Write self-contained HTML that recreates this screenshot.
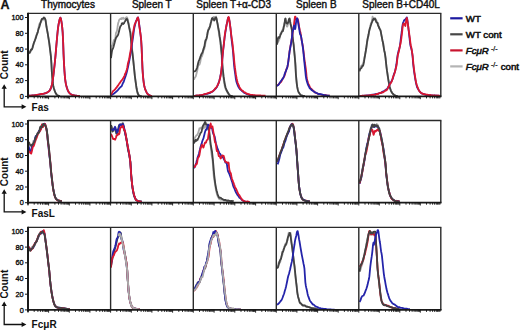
<!DOCTYPE html>
<html><head><meta charset="utf-8"><style>
html,body{margin:0;padding:0;background:#fff;width:520px;height:330px;overflow:hidden}
svg{display:block;font-family:"Liberation Sans",sans-serif}
</style></head><body>
<svg width="520" height="330" viewBox="0 0 520 330"><rect width="520" height="330" fill="#fff"/><clipPath id="c00"><rect x="28.0" y="13.4" width="82.6" height="83.0"/></clipPath><clipPath id="c01"><rect x="110.6" y="13.4" width="82.7" height="83.0"/></clipPath><clipPath id="c02"><rect x="193.3" y="13.4" width="83.0" height="83.0"/></clipPath><clipPath id="c03"><rect x="276.3" y="13.4" width="82.5" height="83.0"/></clipPath><clipPath id="c04"><rect x="358.8" y="13.4" width="82.0" height="83.0"/></clipPath><clipPath id="c10"><rect x="28.0" y="120.5" width="82.6" height="82.2"/></clipPath><clipPath id="c11"><rect x="110.6" y="120.5" width="82.7" height="82.2"/></clipPath><clipPath id="c12"><rect x="193.3" y="120.5" width="83.0" height="82.2"/></clipPath><clipPath id="c13"><rect x="276.3" y="120.5" width="82.5" height="82.2"/></clipPath><clipPath id="c14"><rect x="358.8" y="120.5" width="82.0" height="82.2"/></clipPath><clipPath id="c20"><rect x="28.0" y="227.4" width="82.6" height="82.5"/></clipPath><clipPath id="c21"><rect x="110.6" y="227.4" width="82.7" height="82.5"/></clipPath><clipPath id="c22"><rect x="193.3" y="227.4" width="83.0" height="82.5"/></clipPath><clipPath id="c23"><rect x="276.3" y="227.4" width="82.5" height="82.5"/></clipPath><clipPath id="c24"><rect x="358.8" y="227.4" width="82.0" height="82.5"/></clipPath><path d="M28.00,53.46 L28.45,53.69 L28.90,53.09 L29.35,52.89 L29.80,52.90 L30.25,52.35 L30.70,51.22 L31.15,50.42 L31.60,49.78 L32.05,48.59 L32.50,47.59 L32.95,46.14 L33.40,44.68 L33.85,43.05 L34.30,42.18 L34.75,41.03 L35.20,39.64 L35.65,37.62 L36.10,36.03 L36.55,34.81 L37.00,33.63 L37.45,32.80 L37.90,32.02 L38.35,29.45 L38.80,26.01 L39.25,24.08 L39.70,23.85 L40.15,23.31 L40.60,22.25 L41.05,22.23 L41.50,20.85 L41.95,19.20 L42.40,18.67 L42.85,19.55 L43.30,19.71 L43.75,18.60 L44.20,17.67 L44.65,17.74 L45.10,18.78 L45.55,20.50 L46.00,22.54 L46.45,25.56 L46.90,28.65 L47.35,31.28 L47.80,33.78 L48.25,36.51 L48.70,38.75 L49.15,41.69 L49.60,45.58 L50.05,49.84 L50.50,53.20 L50.95,57.08 L51.40,63.14 L51.85,72.03 L52.30,77.98 L52.75,82.96 L53.20,85.83 L53.65,87.65 L54.10,88.89 L54.55,90.22 L55.00,91.60 L55.45,92.63 L55.90,93.40 L56.35,94.11 L56.80,94.72 L57.25,95.19 L57.70,95.49 L58.15,95.63 L58.60,95.76 L59.05,95.93 L59.50,96.10 L59.95,96.20" fill="none" stroke="#a9a9a9" stroke-width="1.8" stroke-linejoin="round" clip-path="url(#c00)"/><path d="M28.00,95.80 L28.45,95.75 L28.90,95.69 L29.35,95.68 L29.80,95.68 L30.25,95.67 L30.70,95.61 L31.15,95.57 L31.60,95.53 L32.05,95.50 L32.50,95.46 L32.95,95.42 L33.40,95.35 L33.85,95.32 L34.30,95.28 L34.75,95.24 L35.20,95.17 L35.65,95.11 L36.10,95.02 L36.55,94.97 L37.00,94.90 L37.45,94.83 L37.90,94.74 L38.35,94.63 L38.80,94.55 L39.25,94.50 L39.70,94.41 L40.15,94.25 L40.60,94.09 L41.05,94.06 L41.50,94.04 L41.95,94.02 L42.40,93.95 L42.85,93.88 L43.30,93.78 L43.75,93.67 L44.20,93.57 L44.65,93.43 L45.10,93.29 L45.55,93.13 L46.00,93.05 L46.45,92.87 L46.90,92.61 L47.35,92.31 L47.80,92.10 L48.25,91.82 L48.70,91.49 L49.15,91.01 L49.60,90.53 L50.05,89.89 L50.50,89.04 L50.95,87.94 L51.40,86.63 L51.85,84.96 L52.30,82.89 L52.75,80.30 L53.20,77.10 L53.65,73.33 L54.10,69.20 L54.55,65.08 L55.00,60.79 L55.45,56.10 L55.90,50.86 L56.35,45.60 L56.80,40.43 L57.25,35.51 L57.70,30.63 L58.15,26.97 L58.60,24.25 L59.05,22.16 L59.50,20.02 L59.95,18.37 L60.40,17.64 L60.85,18.50 L61.30,20.65 L61.75,23.34 L62.20,27.08 L62.65,32.34 L63.10,41.32 L63.55,54.29 L64.00,63.39 L64.45,70.84 L64.90,76.58 L65.35,80.57 L65.80,83.32 L66.25,85.41 L66.70,87.12 L67.15,88.59 L67.60,89.82 L68.05,90.93 L68.50,91.77 L68.95,92.45 L69.40,92.93 L69.85,93.36 L70.30,93.73 L70.75,94.08 L71.20,94.38 L71.65,94.61 L72.10,94.79 L72.55,94.93 L73.00,95.06 L73.45,95.18 L73.90,95.31 L74.35,95.41 L74.80,95.52 L75.25,95.60 L75.70,95.64 L76.15,95.69 L76.60,95.74 L77.05,95.79 L77.50,95.80 L77.95,95.85 L78.40,95.86 L78.85,95.90 L79.30,95.94 L79.75,95.98" fill="none" stroke="#2424aa" stroke-width="1.8" stroke-linejoin="round" clip-path="url(#c00)"/><path d="M28.00,53.04 L28.45,52.85 L28.90,52.54 L29.35,52.89 L29.80,52.47 L30.25,51.38 L30.70,50.39 L31.15,49.47 L31.60,49.72 L32.05,49.18 L32.50,48.03 L32.95,46.00 L33.40,44.57 L33.85,43.06 L34.30,41.65 L34.75,40.61 L35.20,39.49 L35.65,38.38 L36.10,36.91 L36.55,35.47 L37.00,34.22 L37.45,33.11 L37.90,31.42 L38.35,29.40 L38.80,27.96 L39.25,27.22 L39.70,25.82 L40.15,23.94 L40.60,22.34 L41.05,21.06 L41.50,19.80 L41.95,18.97 L42.40,18.90 L42.85,18.65 L43.30,18.41 L43.75,17.56 L44.20,17.84 L44.65,18.23 L45.10,18.83 L45.55,20.08 L46.00,23.39 L46.45,26.78 L46.90,29.15 L47.35,31.40 L47.80,33.90 L48.25,36.84 L48.70,39.56 L49.15,42.35 L49.60,45.64 L50.05,49.40 L50.50,53.01 L50.95,56.92 L51.40,63.33 L51.85,71.97 L52.30,78.00 L52.75,82.76 L53.20,85.48 L53.65,87.47 L54.10,89.08 L54.55,90.41 L55.00,91.48 L55.45,92.52 L55.90,93.56 L56.35,94.19 L56.80,94.68 L57.25,95.10 L57.70,95.50 L58.15,95.65 L58.60,95.75 L59.05,95.88 L59.50,96.04 L59.95,96.17" fill="none" stroke="#424242" stroke-width="1.8" stroke-linejoin="round" clip-path="url(#c00)"/><path d="M28.00,95.79 L28.45,95.77 L28.90,95.76 L29.35,95.71 L29.80,95.65 L30.25,95.60 L30.70,95.59 L31.15,95.54 L31.60,95.50 L32.05,95.48 L32.50,95.48 L32.95,95.45 L33.40,95.41 L33.85,95.32 L34.30,95.29 L34.75,95.22 L35.20,95.19 L35.65,95.10 L36.10,95.04 L36.55,94.93 L37.00,94.85 L37.45,94.79 L37.90,94.72 L38.35,94.67 L38.80,94.55 L39.25,94.44 L39.70,94.32 L40.15,94.27 L40.60,94.16 L41.05,94.07 L41.50,94.00 L41.95,93.94 L42.40,93.89 L42.85,93.83 L43.30,93.80 L43.75,93.71 L44.20,93.58 L44.65,93.41 L45.10,93.26 L45.55,93.16 L46.00,93.05 L46.45,92.85 L46.90,92.60 L47.35,92.32 L47.80,92.06 L48.25,91.75 L48.70,91.40 L49.15,91.07 L49.60,90.60 L50.05,89.91 L50.50,88.99 L50.95,87.94 L51.40,86.58 L51.85,84.81 L52.30,82.79 L52.75,80.08 L53.20,76.86 L53.65,73.18 L54.10,69.33 L54.55,65.19 L55.00,60.96 L55.45,56.33 L55.90,51.11 L56.35,45.69 L56.80,40.51 L57.25,35.69 L57.70,31.26 L58.15,27.35 L58.60,24.22 L59.05,21.79 L59.50,19.94 L59.95,18.36 L60.40,17.72 L60.85,18.64 L61.30,21.04 L61.75,23.68 L62.20,27.12 L62.65,31.84 L63.10,40.61 L63.55,53.78 L64.00,63.18 L64.45,70.84 L64.90,76.77 L65.35,80.73 L65.80,83.48 L66.25,85.48 L66.70,87.17 L67.15,88.48 L67.60,89.67 L68.05,90.75 L68.50,91.65 L68.95,92.37 L69.40,92.92 L69.85,93.40 L70.30,93.78 L70.75,94.12 L71.20,94.43 L71.65,94.68 L72.10,94.86 L72.55,94.99 L73.00,95.10 L73.45,95.22 L73.90,95.32 L74.35,95.41 L74.80,95.49 L75.25,95.56 L75.70,95.62 L76.15,95.66 L76.60,95.73 L77.05,95.78 L77.50,95.83 L77.95,95.86 L78.40,95.89 L78.85,95.92 L79.30,95.95 L79.75,95.99" fill="none" stroke="#dc1630" stroke-width="1.8" stroke-linejoin="round" clip-path="url(#c00)"/><path d="M111.00,56.90 L111.45,49.12 L111.90,45.90 L112.35,45.37 L112.80,44.37 L113.25,42.57 L113.70,40.39 L114.15,39.71 L114.60,40.16 L115.05,39.66 L115.50,36.71 L115.95,33.11 L116.40,32.00 L116.85,31.44 L117.30,28.84 L117.75,25.44 L118.20,22.99 L118.65,21.69 L119.10,20.12 L119.55,19.34 L120.00,19.20 L120.45,19.07 L120.90,18.51 L121.35,18.05 L121.80,19.00 L122.25,18.75 L122.70,18.08 L123.15,17.64 L123.60,18.79 L124.05,18.37 L124.50,18.56 L124.95,18.60 L125.40,18.87 L125.85,17.82 L126.30,17.28 L126.75,17.16 L127.20,17.58 L127.65,19.19 L128.10,20.91 L128.55,23.86 L129.00,26.73 L129.45,28.20 L129.90,29.34 L130.35,31.34 L130.80,36.00 L131.25,41.33 L131.70,45.66 L132.15,49.25 L132.60,53.38 L133.05,58.64 L133.50,62.30 L133.95,66.53 L134.40,70.90 L134.85,75.94 L135.30,79.33 L135.75,83.16 L136.20,86.39 L136.65,89.50 L137.10,91.53 L137.55,93.13 L138.00,94.14 L138.45,94.84 L138.90,95.29 L139.35,95.78 L139.80,96.08 L140.25,96.19 L140.70,96.20 L141.15,96.23 L141.60,96.22" fill="none" stroke="#a9a9a9" stroke-width="1.8" stroke-linejoin="round" clip-path="url(#c01)"/><path d="M111.00,58.08 L111.45,54.55 L111.90,51.44 L112.35,49.36 L112.80,49.05 L113.25,47.69 L113.70,46.20 L114.15,44.39 L114.60,42.80 L115.05,41.06 L115.50,39.46 L115.95,37.93 L116.40,37.26 L116.85,36.70 L117.30,36.18 L117.75,35.29 L118.20,34.68 L118.65,32.65 L119.10,31.13 L119.55,29.06 L120.00,27.42 L120.45,26.02 L120.90,25.96 L121.35,25.03 L121.80,23.48 L122.25,23.13 L122.70,23.38 L123.15,23.98 L123.60,23.62 L124.05,23.27 L124.50,22.00 L124.95,21.47 L125.40,20.59 L125.85,20.02 L126.30,19.06 L126.75,19.00 L127.20,19.07 L127.65,20.72 L128.10,22.37 L128.55,23.82 L129.00,26.40 L129.45,28.77 L129.90,30.97 L130.35,32.90 L130.80,37.57 L131.25,42.92 L131.70,47.51 L132.15,51.00 L132.60,54.39 L133.05,58.11 L133.50,62.56 L133.95,67.05 L134.40,71.57 L134.85,75.87 L135.30,79.27 L135.75,82.39 L136.20,85.74 L136.65,88.53 L137.10,90.79 L137.55,92.62 L138.00,93.98 L138.45,94.82 L138.90,95.42 L139.35,95.80 L139.80,96.04 L140.25,96.09 L140.70,96.17 L141.15,96.18 L141.60,96.21" fill="none" stroke="#424242" stroke-width="1.8" stroke-linejoin="round" clip-path="url(#c01)"/><path d="M111.00,95.51 L111.45,95.21 L111.90,94.88 L112.35,94.55 L112.80,94.22 L113.25,93.94 L113.70,93.74 L114.15,93.47 L114.60,93.04 L115.05,92.63 L115.50,92.34 L115.95,92.01 L116.40,91.51 L116.85,91.05 L117.30,90.70 L117.75,90.26 L118.20,89.72 L118.65,89.07 L119.10,88.56 L119.55,87.97 L120.00,87.61 L120.45,87.17 L120.90,86.86 L121.35,86.41 L121.80,85.87 L122.25,84.75 L122.70,83.65 L123.15,82.72 L123.60,81.97 L124.05,80.68 L124.50,79.32 L124.95,77.92 L125.40,76.61 L125.85,75.36 L126.30,73.89 L126.75,72.23 L127.20,70.45 L127.65,68.64 L128.10,66.55 L128.55,64.36 L129.00,62.33 L129.45,59.81 L129.90,57.26 L130.35,54.97 L130.80,52.14 L131.25,49.12 L131.70,45.97 L132.15,43.06 L132.60,40.04 L133.05,37.11 L133.50,33.66 L133.95,30.08 L134.40,27.64 L134.85,25.71 L135.30,23.82 L135.75,22.01 L136.20,20.77 L136.65,19.84 L137.10,18.76 L137.55,17.83 L138.00,17.44 L138.45,19.11 L138.90,22.06 L139.35,25.37 L139.80,28.45 L140.25,32.26 L140.70,36.25 L141.15,40.12 L141.60,47.07 L142.05,57.76 L142.50,68.76 L142.95,75.33 L143.40,79.71 L143.85,83.33 L144.30,85.97 L144.75,87.80 L145.20,89.09 L145.65,90.24 L146.10,91.45 L146.55,92.38 L147.00,93.06 L147.45,93.60 L147.90,94.13 L148.35,94.55 L148.80,94.86 L149.25,95.16 L149.70,95.38 L150.15,95.61 L150.60,95.76 L151.05,95.86 L151.50,95.92 L151.95,96.00" fill="none" stroke="#2424aa" stroke-width="1.8" stroke-linejoin="round" clip-path="url(#c01)"/><path d="M111.00,94.85 L111.45,93.91 L111.90,93.10 L112.35,92.24 L112.80,91.53 L113.25,90.89 L113.70,90.57 L114.15,90.20 L114.60,89.92 L115.05,89.43 L115.50,88.82 L115.95,88.21 L116.40,87.75 L116.85,87.13 L117.30,86.43 L117.75,85.70 L118.20,85.31 L118.65,84.59 L119.10,83.87 L119.55,83.17 L120.00,82.75 L120.45,81.99 L120.90,81.31 L121.35,80.74 L121.80,80.28 L122.25,79.56 L122.70,78.98 L123.15,78.12 L123.60,77.58 L124.05,76.82 L124.50,75.72 L124.95,74.30 L125.40,73.51 L125.85,72.45 L126.30,71.09 L126.75,69.66 L127.20,67.93 L127.65,65.26 L128.10,62.72 L128.55,61.19 L129.00,59.65 L129.45,57.34 L129.90,54.50 L130.35,52.18 L130.80,49.60 L131.25,46.33 L131.70,42.77 L132.15,39.30 L132.60,35.92 L133.05,32.62 L133.50,30.18 L133.95,27.64 L134.40,25.38 L134.85,24.07 L135.30,23.08 L135.75,22.00 L136.20,21.00 L136.65,20.35 L137.10,19.08 L137.55,17.74 L138.00,17.46 L138.45,19.28 L138.90,22.62 L139.35,26.63 L139.80,29.52 L140.25,32.50 L140.70,35.36 L141.15,39.77 L141.60,47.55 L142.05,58.59 L142.50,69.36 L142.95,75.85 L143.40,80.32 L143.85,83.57 L144.30,85.96 L144.75,87.81 L145.20,89.39 L145.65,90.47 L146.10,91.20 L146.55,92.22 L147.00,93.12 L147.45,93.86 L147.90,94.21 L148.35,94.66 L148.80,95.02 L149.25,95.32 L149.70,95.42 L150.15,95.56 L150.60,95.68 L151.05,95.79 L151.50,95.83 L151.95,95.93" fill="none" stroke="#dc1630" stroke-width="1.8" stroke-linejoin="round" clip-path="url(#c01)"/><path d="M194.00,79.75 L194.45,78.30 L194.90,77.51 L195.35,76.94 L195.80,76.19 L196.25,74.53 L196.70,72.75 L197.15,71.08 L197.60,68.81 L198.05,66.16 L198.50,65.11 L198.95,64.40 L199.40,64.67 L199.85,63.37 L200.30,61.89 L200.75,59.00 L201.20,57.78 L201.65,56.49 L202.10,56.07 L202.55,54.36 L203.00,53.14 L203.45,50.33 L203.90,49.84 L204.35,48.60 L204.80,46.89 L205.25,44.13 L205.70,42.09 L206.15,40.58 L206.60,37.94 L207.05,36.59 L207.50,34.13 L207.95,31.79 L208.40,29.38 L208.85,27.82 L209.30,27.51 L209.75,26.59 L210.20,25.79 L210.65,23.72 L211.10,21.89 L211.55,20.35 L212.00,20.20 L212.45,19.88 L212.90,18.65 L213.35,16.99 L213.80,16.83 L214.25,16.92 L214.70,18.52 L215.15,18.38 L215.60,17.59 L216.05,16.67 L216.50,19.18 L216.95,21.62 L217.40,23.10 L217.85,24.49 L218.30,27.64 L218.75,32.03 L219.20,35.31 L219.65,37.90 L220.10,39.97 L220.55,44.49 L221.00,50.11 L221.45,53.86 L221.90,60.66 L222.35,68.92 L222.80,73.80 L223.25,76.46 L223.70,79.57 L224.15,82.52 L224.60,85.28 L225.05,87.31 L225.50,88.87 L225.95,89.69 L226.40,90.47 L226.85,91.19 L227.30,92.26 L227.75,93.19 L228.20,93.77 L228.65,94.24 L229.10,94.83 L229.55,95.47 L230.00,95.70 L230.45,95.85 L230.90,95.98 L231.35,96.09 L231.80,96.18 L232.25,96.18 L232.70,96.18" fill="none" stroke="#a9a9a9" stroke-width="1.8" stroke-linejoin="round" clip-path="url(#c02)"/><path d="M194.00,71.92 L194.45,71.32 L194.90,71.26 L195.35,70.95 L195.80,70.43 L196.25,69.61 L196.70,68.73 L197.15,67.45 L197.60,65.58 L198.05,63.56 L198.50,61.79 L198.95,60.56 L199.40,59.63 L199.85,58.44 L200.30,56.92 L200.75,55.88 L201.20,54.62 L201.65,53.68 L202.10,52.94 L202.55,52.33 L203.00,50.72 L203.45,48.97 L203.90,47.99 L204.35,46.59 L204.80,43.92 L205.25,41.16 L205.70,39.92 L206.15,39.50 L206.60,38.22 L207.05,35.99 L207.50,33.04 L207.95,31.06 L208.40,29.90 L208.85,29.24 L209.30,28.43 L209.75,27.26 L210.20,25.45 L210.65,23.36 L211.10,21.80 L211.55,20.04 L212.00,18.33 L212.45,18.04 L212.90,18.62 L213.35,19.11 L213.80,19.72 L214.25,20.53 L214.70,19.80 L215.15,18.29 L215.60,17.55 L216.05,17.44 L216.50,18.44 L216.95,20.57 L217.40,23.14 L217.85,25.73 L218.30,28.29 L218.75,30.26 L219.20,32.37 L219.65,36.13 L220.10,39.23 L220.55,42.19 L221.00,46.68 L221.45,51.18 L221.90,55.67 L222.35,62.98 L222.80,69.07 L223.25,73.02 L223.70,76.97 L224.15,80.21 L224.60,82.86 L225.05,85.33 L225.50,87.19 L225.95,88.46 L226.40,89.69 L226.85,90.81 L227.30,91.56 L227.75,92.29 L228.20,93.05 L228.65,93.86 L229.10,94.46 L229.55,95.01 L230.00,95.46 L230.45,95.77 L230.90,95.92 L231.35,95.98 L231.80,96.10 L232.25,96.20 L232.70,96.24" fill="none" stroke="#424242" stroke-width="1.8" stroke-linejoin="round" clip-path="url(#c02)"/><path d="M194.00,95.84 L194.45,95.85 L194.90,95.82 L195.35,95.74 L195.80,95.68 L196.25,95.69 L196.70,95.69 L197.15,95.70 L197.60,95.61 L198.05,95.60 L198.50,95.57 L198.95,95.59 L199.40,95.50 L199.85,95.42 L200.30,95.35 L200.75,95.32 L201.20,95.25 L201.65,95.13 L202.10,95.03 L202.55,94.92 L203.00,94.75 L203.45,94.62 L203.90,94.56 L204.35,94.42 L204.80,94.23 L205.25,94.14 L205.70,94.07 L206.15,93.90 L206.60,93.79 L207.05,93.80 L207.50,93.76 L207.95,93.55 L208.40,93.37 L208.85,93.29 L209.30,93.16 L209.75,92.98 L210.20,92.83 L210.65,92.64 L211.10,92.29 L211.55,91.99 L212.00,91.79 L212.45,91.65 L212.90,91.25 L213.35,90.78 L213.80,90.27 L214.25,89.82 L214.70,89.40 L215.15,89.08 L215.60,88.63 L216.05,88.10 L216.50,87.54 L216.95,86.92 L217.40,85.96 L217.85,85.00 L218.30,83.68 L218.75,82.36 L219.20,80.99 L219.65,79.37 L220.10,77.38 L220.55,75.12 L221.00,72.83 L221.45,69.61 L221.90,65.48 L222.35,58.67 L222.80,53.85 L223.25,49.49 L223.70,45.30 L224.15,41.61 L224.60,37.73 L225.05,34.59 L225.50,31.63 L225.95,28.78 L226.40,25.88 L226.85,23.53 L227.30,21.69 L227.75,19.13 L228.20,17.67 L228.65,17.73 L229.10,19.48 L229.55,21.16 L230.00,24.26 L230.45,27.98 L230.90,32.53 L231.35,37.14 L231.80,41.27 L232.25,44.78 L232.70,48.33 L233.15,53.20 L233.60,59.16 L234.05,64.99 L234.50,68.77 L234.95,72.10 L235.40,75.42 L235.85,78.79 L236.30,81.13 L236.75,82.64 L237.20,83.89 L237.65,85.10 L238.10,86.19 L238.55,86.99 L239.00,87.80 L239.45,88.54 L239.90,89.14 L240.35,89.55 L240.80,89.84 L241.25,90.18 L241.70,90.69 L242.15,91.19 L242.60,91.43 L243.05,91.73 L243.50,92.15 L243.95,92.66 L244.40,92.88 L244.85,93.02 L245.30,93.04 L245.75,93.33 L246.20,93.79 L246.65,94.05 L247.10,94.09 L247.55,94.19 L248.00,94.40 L248.45,94.57 L248.90,94.70 L249.35,94.90 L249.80,95.09 L250.25,95.23 L250.70,95.34 L251.15,95.38 L251.60,95.46 L252.05,95.44 L252.50,95.44 L252.95,95.52 L253.40,95.63 L253.85,95.71 L254.30,95.75 L254.75,95.83 L255.20,95.87 L255.65,95.90 L256.10,95.89 L256.55,95.86 L257.00,95.83 L257.45,95.84 L257.90,95.85 L258.35,95.87 L258.80,95.90 L259.25,95.95 L259.70,95.99" fill="none" stroke="#2424aa" stroke-width="1.8" stroke-linejoin="round" clip-path="url(#c02)"/><path d="M194.00,95.84 L194.45,95.83 L194.90,95.83 L195.35,95.82 L195.80,95.73 L196.25,95.61 L196.70,95.47 L197.15,95.46 L197.60,95.50 L198.05,95.53 L198.50,95.49 L198.95,95.32 L199.40,95.23 L199.85,95.12 L200.30,95.21 L200.75,95.21 L201.20,95.20 L201.65,95.02 L202.10,94.89 L202.55,94.78 L203.00,94.67 L203.45,94.48 L203.90,94.32 L204.35,94.20 L204.80,94.07 L205.25,93.94 L205.70,93.82 L206.15,93.78 L206.60,93.60 L207.05,93.52 L207.50,93.34 L207.95,93.24 L208.40,92.92 L208.85,92.77 L209.30,92.66 L209.75,92.60 L210.20,92.39 L210.65,92.19 L211.10,92.12 L211.55,92.03 L212.00,91.66 L212.45,91.27 L212.90,90.97 L213.35,90.72 L213.80,90.35 L214.25,89.93 L214.70,89.15 L215.15,88.47 L215.60,88.09 L216.05,87.71 L216.50,87.11 L216.95,86.45 L217.40,85.59 L217.85,84.66 L218.30,83.75 L218.75,82.81 L219.20,81.40 L219.65,79.80 L220.10,78.27 L220.55,76.04 L221.00,73.13 L221.45,69.71 L221.90,65.44 L222.35,58.11 L222.80,52.84 L223.25,48.83 L223.70,45.37 L224.15,41.20 L224.60,36.56 L225.05,32.84 L225.50,30.33 L225.95,28.08 L226.40,25.75 L226.85,23.75 L227.30,21.46 L227.75,19.34 L228.20,17.48 L228.65,16.94 L229.10,18.22 L229.55,21.38 L230.00,24.85 L230.45,28.23 L230.90,31.82 L231.35,35.58 L231.80,38.52 L232.25,41.40 L232.70,45.11 L233.15,49.85 L233.60,53.94 L234.05,59.11 L234.50,63.79 L234.95,67.66 L235.40,70.85 L235.85,74.21 L236.30,76.72 L236.75,79.04 L237.20,81.01 L237.65,82.74 L238.10,83.95 L238.55,84.90 L239.00,85.94 L239.45,87.03 L239.90,88.04 L240.35,88.65 L240.80,89.11 L241.25,89.60 L241.70,90.11 L242.15,90.48 L242.60,90.74 L243.05,91.04 L243.50,91.63 L243.95,92.02 L244.40,92.27 L244.85,92.29 L245.30,92.67 L245.75,93.04 L246.20,93.50 L246.65,93.62 L247.10,93.66 L247.55,93.79 L248.00,94.08 L248.45,94.26 L248.90,94.22 L249.35,94.32 L249.80,94.52 L250.25,94.83 L250.70,94.90 L251.15,94.89 L251.60,94.81 L252.05,94.82 L252.50,94.83 L252.95,94.99 L253.40,95.15 L253.85,95.17 L254.30,95.06 L254.75,95.12 L255.20,95.24 L255.65,95.34 L256.10,95.32 L256.55,95.32 L257.00,95.36 L257.45,95.38 L257.90,95.40 L258.35,95.34 L258.80,95.30 L259.25,95.29 L259.70,95.42 L260.15,95.45 L260.60,95.48 L261.05,95.57 L261.50,95.67 L261.95,95.68 L262.40,95.69 L262.85,95.71 L263.30,95.67 L263.75,95.64 L264.20,95.70 L264.65,95.74 L265.10,95.75 L265.55,95.74" fill="none" stroke="#dc1630" stroke-width="1.8" stroke-linejoin="round" clip-path="url(#c02)"/><path d="M277.00,44.29 L277.45,42.30 L277.90,40.47 L278.35,41.64 L278.80,40.09 L279.25,39.73 L279.70,37.94 L280.15,35.72 L280.60,33.60 L281.05,33.07 L281.50,32.20 L281.95,30.56 L282.40,29.95 L282.85,30.05 L283.30,28.86 L283.75,26.71 L284.20,23.65 L284.65,23.18 L285.10,20.93 L285.55,21.39 L286.00,21.71 L286.45,24.68 L286.90,26.56 L287.35,26.55 L287.80,24.98 L288.25,22.52 L288.70,21.56 L289.15,18.96 L289.60,19.11 L290.05,20.92 L290.50,24.79 L290.95,26.30 L291.40,27.33 L291.85,29.60 L292.30,33.72 L292.75,38.46 L293.20,41.95 L293.65,44.32 L294.10,48.87 L294.55,53.49 L295.00,57.68 L295.45,63.53 L295.90,73.53 L296.35,79.70 L296.80,84.43 L297.25,87.25 L297.70,89.02 L298.15,90.49 L298.60,91.98 L299.05,93.10 L299.50,93.82 L299.95,94.22 L300.40,94.74 L300.85,95.11 L301.30,95.44 L301.75,95.61 L302.20,95.87 L302.65,95.95 L303.10,95.96 L303.55,95.92 L304.00,96.04 L304.45,96.10 L304.90,96.17" fill="none" stroke="#a9a9a9" stroke-width="1.8" stroke-linejoin="round" clip-path="url(#c03)"/><path d="M277.00,44.67 L277.45,42.07 L277.90,38.59 L278.35,37.12 L278.80,37.51 L279.25,37.96 L279.70,36.94 L280.15,35.71 L280.60,34.19 L281.05,33.93 L281.50,32.60 L281.95,31.79 L282.40,31.23 L282.85,31.20 L283.30,29.52 L283.75,26.68 L284.20,25.58 L284.65,22.74 L285.10,18.92 L285.55,18.52 L286.00,21.27 L286.45,22.78 L286.90,23.29 L287.35,23.70 L287.80,23.01 L288.25,22.20 L288.70,20.00 L289.15,18.92 L289.60,18.48 L290.05,21.17 L290.50,23.50 L290.95,25.43 L291.40,27.31 L291.85,29.72 L292.30,33.66 L292.75,37.30 L293.20,41.58 L293.65,44.76 L294.10,50.08 L294.55,54.83 L295.00,59.72 L295.45,65.85 L295.90,74.30 L296.35,79.44 L296.80,83.67 L297.25,86.95 L297.70,89.25 L298.15,91.00 L298.60,92.21 L299.05,92.82 L299.50,93.49 L299.95,94.07 L300.40,94.73 L300.85,95.00 L301.30,95.23 L301.75,95.46 L302.20,95.62 L302.65,95.66 L303.10,95.79 L303.55,95.93 L304.00,95.97 L304.45,96.05 L304.90,96.18" fill="none" stroke="#424242" stroke-width="1.8" stroke-linejoin="round" clip-path="url(#c03)"/><path d="M277.00,86.11 L277.45,85.42 L277.90,84.99 L278.35,84.62 L278.80,84.25 L279.25,83.64 L279.70,83.10 L280.15,82.50 L280.60,82.45 L281.05,81.96 L281.50,81.24 L281.95,80.10 L282.40,79.26 L282.85,78.59 L283.30,77.95 L283.75,77.17 L284.20,76.41 L284.65,75.30 L285.10,73.99 L285.55,72.12 L286.00,70.35 L286.45,69.12 L286.90,68.29 L287.35,67.32 L287.80,65.09 L288.25,62.06 L288.70,58.31 L289.15,54.83 L289.60,50.93 L290.05,48.33 L290.50,45.82 L290.95,43.62 L291.40,40.77 L291.85,38.35 L292.30,35.06 L292.75,32.36 L293.20,29.86 L293.65,27.36 L294.10,23.66 L294.55,19.59 L295.00,16.59 L295.45,16.60 L295.90,18.40 L296.35,19.65 L296.80,19.96 L297.25,18.95 L297.70,19.05 L298.15,20.53 L298.60,22.99 L299.05,25.99 L299.50,28.77 L299.95,30.64 L300.40,32.15 L300.85,34.66 L301.30,37.99 L301.75,40.83 L302.20,42.92 L302.65,45.27 L303.10,48.00 L303.55,51.71 L304.00,55.33 L304.45,59.24 L304.90,62.75 L305.35,65.57 L305.80,68.58 L306.25,72.89 L306.70,78.07 L307.15,80.09 L307.60,81.39 L308.05,82.81 L308.50,84.02 L308.95,85.05 L309.40,85.85 L309.85,86.89 L310.30,87.76 L310.75,88.50 L311.20,88.76 L311.65,89.19 L312.10,89.67 L312.55,90.16 L313.00,90.67 L313.45,91.12 L313.90,91.33 L314.35,91.58 L314.80,92.14 L315.25,92.66 L315.70,92.85 L316.15,93.03 L316.60,93.09 L317.05,93.33 L317.50,93.60 L317.95,93.81 L318.40,93.83 L318.85,93.80 L319.30,93.88 L319.75,94.05 L320.20,94.22 L320.65,94.37 L321.10,94.50 L321.55,94.67 L322.00,94.78 L322.45,94.96 L322.90,95.04 L323.35,95.08 L323.80,95.13 L324.25,95.17 L324.70,95.11 L325.15,94.98 L325.60,95.06 L326.05,95.25 L326.50,95.45 L326.95,95.57 L327.40,95.67 L327.85,95.73 L328.30,95.68 L328.75,95.63 L329.20,95.65 L329.65,95.73" fill="none" stroke="#dc1630" stroke-width="1.8" stroke-linejoin="round" clip-path="url(#c03)"/><path d="M277.00,85.98 L277.45,85.57 L277.90,85.28 L278.35,84.95 L278.80,84.31 L279.25,83.66 L279.70,82.88 L280.15,82.16 L280.60,81.35 L281.05,80.88 L281.50,80.35 L281.95,79.63 L282.40,79.07 L282.85,78.59 L283.30,77.83 L283.75,76.75 L284.20,75.61 L284.65,74.04 L285.10,72.96 L285.55,71.76 L286.00,70.87 L286.45,69.50 L286.90,68.42 L287.35,66.77 L287.80,64.64 L288.25,62.08 L288.70,58.57 L289.15,55.23 L289.60,51.44 L290.05,49.08 L290.50,46.29 L290.95,44.00 L291.40,41.28 L291.85,37.86 L292.30,34.21 L292.75,31.15 L293.20,29.59 L293.65,27.53 L294.10,25.55 L294.55,25.88 L295.00,29.17 L295.45,27.97 L295.90,23.39 L296.35,20.28 L296.80,18.64 L297.25,18.30 L297.70,19.78 L298.15,22.86 L298.60,25.56 L299.05,27.85 L299.50,30.99 L299.95,33.84 L300.40,34.85 L300.85,35.49 L301.30,37.53 L301.75,40.43 L302.20,43.21 L302.65,46.21 L303.10,49.34 L303.55,53.96 L304.00,58.54 L304.45,63.03 L304.90,67.49 L305.35,71.77 L305.80,76.16 L306.25,78.72 L306.70,80.69 L307.15,82.22 L307.60,83.63 L308.05,84.91 L308.50,85.84 L308.95,86.68 L309.40,87.63 L309.85,88.48 L310.30,88.63 L310.75,88.93 L311.20,89.46 L311.65,90.17 L312.10,90.32 L312.55,90.54 L313.00,90.88 L313.45,91.18 L313.90,91.59 L314.35,92.02 L314.80,92.35 L315.25,92.32 L315.70,92.52 L316.15,92.82 L316.60,93.14 L317.05,93.20 L317.50,93.50 L317.95,93.69 L318.40,94.00 L318.85,93.92 L319.30,94.02 L319.75,94.09 L320.20,94.18 L320.65,94.18 L321.10,94.24 L321.55,94.39 L322.00,94.47 L322.45,94.56 L322.90,94.73 L323.35,94.89 L323.80,95.04 L324.25,95.04 L324.70,95.03 L325.15,95.17 L325.60,95.29 L326.05,95.34 L326.50,95.30 L326.95,95.39 L327.40,95.50 L327.85,95.62 L328.30,95.67 L328.75,95.71 L329.20,95.73 L329.65,95.77" fill="none" stroke="#2424aa" stroke-width="1.8" stroke-linejoin="round" clip-path="url(#c03)"/><path d="M359.50,71.68 L359.95,70.37 L360.40,68.38 L360.85,66.49 L361.30,65.86 L361.75,65.57 L362.20,65.12 L362.65,64.16 L363.10,63.55 L363.55,61.62 L364.00,59.91 L364.45,57.08 L364.90,55.77 L365.35,53.41 L365.80,51.25 L366.25,47.88 L366.70,44.92 L367.15,42.46 L367.60,39.35 L368.05,37.58 L368.50,35.90 L368.95,33.33 L369.40,30.05 L369.85,27.86 L370.30,26.72 L370.75,23.94 L371.20,23.17 L371.65,21.66 L372.10,19.79 L372.55,16.61 L373.00,17.60 L373.45,19.74 L373.90,20.14 L374.35,18.82 L374.80,17.89 L375.25,18.48 L375.70,19.51 L376.15,19.77 L376.60,21.11 L377.05,22.69 L377.50,22.84 L377.95,22.93 L378.40,24.36 L378.85,27.42 L379.30,28.28 L379.75,28.42 L380.20,28.89 L380.65,31.45 L381.10,33.84 L381.55,35.60 L382.00,37.92 L382.45,40.32 L382.90,41.97 L383.35,43.49 L383.80,46.52 L384.25,50.18 L384.70,52.88 L385.15,55.04 L385.60,58.15 L386.05,63.34 L386.50,67.35 L386.95,70.24 L387.40,73.39 L387.85,77.03 L388.30,79.96 L388.75,82.29 L389.20,84.39 L389.65,86.29 L390.10,88.34 L390.55,89.73 L391.00,91.01 L391.45,91.57 L391.90,92.78 L392.35,93.16 L392.80,93.89 L393.25,94.06 L393.70,94.59 L394.15,94.86 L394.60,95.21 L395.05,95.60 L395.50,95.83 L395.95,95.87 L396.40,95.86 L396.85,96.01 L397.30,96.09 L397.75,96.11" fill="none" stroke="#a9a9a9" stroke-width="1.8" stroke-linejoin="round" clip-path="url(#c04)"/><path d="M359.50,70.54 L359.95,69.64 L360.40,68.64 L360.85,68.46 L361.30,68.09 L361.75,67.51 L362.20,66.22 L362.65,65.68 L363.10,65.77 L363.55,64.12 L364.00,61.72 L364.45,58.82 L364.90,56.24 L365.35,53.34 L365.80,50.77 L366.25,48.28 L366.70,44.75 L367.15,41.47 L367.60,38.71 L368.05,36.70 L368.50,34.54 L368.95,32.07 L369.40,30.12 L369.85,28.52 L370.30,27.08 L370.75,25.37 L371.20,24.23 L371.65,22.90 L372.10,21.92 L372.55,20.69 L373.00,19.95 L373.45,18.78 L373.90,18.69 L374.35,18.95 L374.80,19.19 L375.25,18.98 L375.70,20.26 L376.15,21.88 L376.60,22.42 L377.05,22.33 L377.50,23.19 L377.95,25.06 L378.40,26.16 L378.85,26.86 L379.30,28.28 L379.75,29.13 L380.20,29.82 L380.65,30.77 L381.10,33.35 L381.55,35.82 L382.00,38.05 L382.45,40.68 L382.90,42.33 L383.35,45.36 L383.80,48.11 L384.25,50.68 L384.70,52.17 L385.15,55.15 L385.60,58.41 L386.05,62.86 L386.50,66.83 L386.95,70.48 L387.40,73.28 L387.85,76.36 L388.30,79.33 L388.75,81.89 L389.20,84.62 L389.65,86.72 L390.10,88.42 L390.55,89.56 L391.00,90.87 L391.45,91.82 L391.90,92.52 L392.35,93.13 L392.80,93.71 L393.25,94.11 L393.70,94.53 L394.15,94.90 L394.60,95.19 L395.05,95.39 L395.50,95.60 L395.95,95.79 L396.40,95.92 L396.85,96.00 L397.30,96.06 L397.75,96.13" fill="none" stroke="#424242" stroke-width="1.8" stroke-linejoin="round" clip-path="url(#c04)"/><path d="M359.50,96.01 L359.95,96.01 L360.40,95.96 L360.85,95.91 L361.30,95.84 L361.75,95.82 L362.20,95.77 L362.65,95.80 L363.10,95.78 L363.55,95.74 L364.00,95.69 L364.45,95.68 L364.90,95.65 L365.35,95.66 L365.80,95.68 L366.25,95.61 L366.70,95.43 L367.15,95.37 L367.60,95.42 L368.05,95.39 L368.50,95.37 L368.95,95.35 L369.40,95.29 L369.85,95.15 L370.30,95.09 L370.75,95.01 L371.20,94.90 L371.65,94.76 L372.10,94.74 L372.55,94.77 L373.00,94.74 L373.45,94.66 L373.90,94.50 L374.35,94.45 L374.80,94.32 L375.25,94.21 L375.70,94.07 L376.15,93.92 L376.60,93.89 L377.05,93.84 L377.50,93.88 L377.95,93.65 L378.40,93.52 L378.85,93.33 L379.30,93.29 L379.75,93.04 L380.20,92.99 L380.65,92.95 L381.10,92.88 L381.55,92.58 L382.00,92.02 L382.45,91.69 L382.90,91.53 L383.35,91.49 L383.80,91.23 L384.25,91.12 L384.70,90.90 L385.15,90.47 L385.60,89.88 L386.05,89.50 L386.50,89.31 L386.95,89.03 L387.40,88.50 L387.85,87.71 L388.30,86.77 L388.75,86.07 L389.20,85.55 L389.65,84.62 L390.10,83.38 L390.55,82.63 L391.00,82.28 L391.45,81.33 L391.90,80.43 L392.35,79.59 L392.80,78.71 L393.25,77.01 L393.70,75.08 L394.15,73.53 L394.60,72.54 L395.05,71.46 L395.50,69.17 L395.95,66.91 L396.40,64.52 L396.85,60.98 L397.30,57.32 L397.75,54.35 L398.20,52.32 L398.65,50.47 L399.10,49.37 L399.55,47.83 L400.00,45.47 L400.45,41.91 L400.90,37.87 L401.35,34.56 L401.80,31.23 L402.25,27.18 L402.70,24.29 L403.15,22.54 L403.60,21.53 L404.05,20.45 L404.50,20.03 L404.95,19.66 L405.40,19.54 L405.85,18.61 L406.30,18.19 L406.75,17.36 L407.20,18.87 L407.65,21.92 L408.10,25.42 L408.55,29.45 L409.00,33.50 L409.45,37.52 L409.90,41.43 L410.35,45.10 L410.80,47.08 L411.25,48.44 L411.70,50.19 L412.15,52.86 L412.60,56.47 L413.05,62.82 L413.50,66.76 L413.95,70.49 L414.40,73.39 L414.85,76.43 L415.30,79.26 L415.75,81.69 L416.20,83.71 L416.65,85.59 L417.10,87.23 L417.55,88.02 L418.00,88.86 L418.45,89.60 L418.90,90.44 L419.35,91.00 L419.80,91.70 L420.25,92.19 L420.70,92.69 L421.15,93.11 L421.60,93.39 L422.05,93.59 L422.50,93.71 L422.95,93.89 L423.40,93.99 L423.85,94.11 L424.30,94.21 L424.75,94.41 L425.20,94.65 L425.65,94.78 L426.10,94.83 L426.55,94.92 L427.00,95.03 L427.45,94.92 L427.90,94.88 L428.35,95.00 L428.80,95.19 L429.25,95.22 L429.70,95.18 L430.15,95.22 L430.60,95.26 L431.05,95.34 L431.50,95.38 L431.95,95.41 L432.40,95.43 L432.85,95.52 L433.30,95.55 L433.75,95.55 L434.20,95.52 L434.65,95.49 L435.10,95.48 L435.55,95.55 L436.00,95.64 L436.45,95.65 L436.90,95.64 L437.35,95.59 L437.80,95.60 L438.25,95.70 L438.70,95.77 L439.15,95.77 L439.60,95.78 L440.05,95.83 L440.50,95.83" fill="none" stroke="#2424aa" stroke-width="1.8" stroke-linejoin="round" clip-path="url(#c04)"/><path d="M359.50,96.02 L359.95,96.07 L360.40,96.07 L360.85,96.01 L361.30,95.92 L361.75,95.84 L362.20,95.76 L362.65,95.71 L363.10,95.76 L363.55,95.80 L364.00,95.82 L364.45,95.73 L364.90,95.65 L365.35,95.55 L365.80,95.51 L366.25,95.57 L366.70,95.62 L367.15,95.60 L367.60,95.52 L368.05,95.42 L368.50,95.45 L368.95,95.41 L369.40,95.41 L369.85,95.44 L370.30,95.37 L370.75,95.15 L371.20,94.95 L371.65,95.06 L372.10,94.99 L372.55,94.92 L373.00,94.87 L373.45,94.92 L373.90,94.70 L374.35,94.60 L374.80,94.68 L375.25,94.82 L375.70,94.60 L376.15,94.30 L376.60,93.94 L377.05,93.86 L377.50,93.99 L377.95,94.17 L378.40,93.71 L378.85,93.29 L379.30,93.14 L379.75,93.22 L380.20,93.18 L380.65,92.91 L381.10,92.62 L381.55,92.43 L382.00,92.58 L382.45,92.51 L382.90,92.33 L383.35,92.10 L383.80,91.71 L384.25,91.43 L384.70,91.13 L385.15,90.69 L385.60,90.20 L386.05,90.23 L386.50,90.25 L386.95,89.85 L387.40,89.11 L387.85,87.97 L388.30,87.12 L388.75,86.56 L389.20,85.72 L389.65,84.48 L390.10,83.55 L390.55,83.38 L391.00,82.77 L391.45,82.01 L391.90,80.86 L392.35,79.48 L392.80,77.70 L393.25,76.37 L393.70,75.47 L394.15,74.52 L394.60,72.97 L395.05,71.29 L395.50,69.71 L395.95,68.10 L396.40,66.10 L396.85,63.09 L397.30,59.12 L397.75,55.63 L398.20,53.64 L398.65,52.42 L399.10,50.36 L399.55,47.94 L400.00,45.60 L400.45,44.13 L400.90,41.37 L401.35,38.28 L401.80,34.55 L402.25,30.82 L402.70,26.35 L403.15,24.02 L403.60,23.51 L404.05,24.41 L404.50,23.65 L404.95,25.20 L405.40,25.94 L405.85,22.84 L406.30,19.23 L406.75,17.94 L407.20,19.46 L407.65,22.58 L408.10,25.74 L408.55,29.38 L409.00,32.09 L409.45,35.31 L409.90,38.41 L410.35,42.29 L410.80,45.38 L411.25,47.04 L411.70,49.51 L412.15,52.72 L412.60,55.70 L413.05,60.16 L413.50,64.81 L413.95,68.49 L414.40,72.18 L414.85,75.21 L415.30,77.99 L415.75,80.60 L416.20,83.03 L416.65,84.61 L417.10,85.96 L417.55,87.24 L418.00,88.09 L418.45,89.33 L418.90,90.31 L419.35,91.17 L419.80,91.57 L420.25,92.18 L420.70,92.67 L421.15,92.94 L421.60,93.17 L422.05,93.38 L422.50,93.58 L422.95,93.82 L423.40,94.16 L423.85,94.29 L424.30,94.24 L424.75,94.22 L425.20,94.30 L425.65,94.36 L426.10,94.57 L426.55,94.67 L427.00,94.67 L427.45,94.72 L427.90,94.87 L428.35,95.08 L428.80,95.09 L429.25,95.11 L429.70,95.04 L430.15,95.01 L430.60,95.07 L431.05,95.25 L431.50,95.47 L431.95,95.48 L432.40,95.49 L432.85,95.47 L433.30,95.49 L433.75,95.44 L434.20,95.45 L434.65,95.44 L435.10,95.52 L435.55,95.54 L436.00,95.53 L436.45,95.51 L436.90,95.58 L437.35,95.57 L437.80,95.52 L438.25,95.52 L438.70,95.64 L439.15,95.75 L439.60,95.83 L440.05,95.82 L440.50,95.80" fill="none" stroke="#dc1630" stroke-width="1.8" stroke-linejoin="round" clip-path="url(#c04)"/><path d="M28.00,147.01 L28.45,147.63 L28.90,149.03 L29.35,149.92 L29.80,150.88 L30.25,150.10 L30.70,149.80 L31.15,149.44 L31.60,147.99 L32.05,146.57 L32.50,145.72 L32.95,143.47 L33.40,140.97 L33.85,140.54 L34.30,141.60 L34.75,142.60 L35.20,141.74 L35.65,139.58 L36.10,137.77 L36.55,136.95 L37.00,136.61 L37.45,134.45 L37.90,133.01 L38.35,132.07 L38.80,132.14 L39.25,131.55 L39.70,131.55 L40.15,130.02 L40.60,128.90 L41.05,127.51 L41.50,126.44 L41.95,124.47 L42.40,124.29 L42.85,125.28 L43.30,125.62 L43.75,125.03 L44.20,124.40 L44.65,124.40 L45.10,124.22 L45.55,125.40 L46.00,127.48 L46.45,129.72 L46.90,132.20 L47.35,134.38 L47.80,138.28 L48.25,141.44 L48.70,146.06 L49.15,150.68 L49.60,155.27 L50.05,159.30 L50.50,164.70 L50.95,170.99 L51.40,175.30 L51.85,179.24 L52.30,182.50 L52.75,185.81 L53.20,188.40 L53.65,191.37 L54.10,193.45 L54.55,195.05 L55.00,196.48 L55.45,197.66 L55.90,198.41 L56.35,199.05 L56.80,199.70 L57.25,200.10 L57.70,200.29 L58.15,200.45 L58.60,200.60 L59.05,200.69 L59.50,200.73 L59.95,200.94 L60.40,201.13 L60.85,201.28 L61.30,201.33 L61.75,201.45" fill="none" stroke="#a9a9a9" stroke-width="1.8" stroke-linejoin="round" clip-path="url(#c10)"/><path d="M28.00,144.83 L28.45,145.71 L28.90,147.29 L29.35,149.46 L29.80,150.37 L30.25,151.13 L30.70,151.57 L31.15,151.47 L31.60,148.30 L32.05,145.50 L32.50,145.00 L32.95,145.27 L33.40,144.61 L33.85,143.68 L34.30,141.84 L34.75,139.96 L35.20,137.64 L35.65,136.31 L36.10,135.66 L36.55,135.63 L37.00,134.72 L37.45,134.09 L37.90,133.36 L38.35,132.63 L38.80,131.01 L39.25,131.04 L39.70,130.94 L40.15,129.76 L40.60,127.43 L41.05,127.16 L41.50,126.68 L41.95,126.56 L42.40,126.22 L42.85,125.21 L43.30,124.56 L43.75,124.29 L44.20,124.58 L44.65,123.58 L45.10,124.24 L45.55,125.89 L46.00,127.76 L46.45,129.14 L46.90,131.73 L47.35,135.55 L47.80,140.79 L48.25,144.84 L48.70,149.09 L49.15,153.41 L49.60,157.24 L50.05,160.81 L50.50,165.14 L50.95,170.49 L51.40,175.16 L51.85,178.92 L52.30,182.52 L52.75,185.98 L53.20,188.78 L53.65,190.93 L54.10,193.30 L54.55,195.36 L55.00,196.76 L55.45,197.71 L55.90,198.57 L56.35,199.05 L56.80,199.37 L57.25,199.73 L57.70,200.07 L58.15,200.37 L58.60,200.74 L59.05,200.99 L59.50,201.18 L59.95,201.26 L60.40,201.37 L60.85,201.40 L61.30,201.42 L61.75,201.45" fill="none" stroke="#2424aa" stroke-width="1.8" stroke-linejoin="round" clip-path="url(#c10)"/><path d="M28.00,150.35 L28.45,151.32 L28.90,151.23 L29.35,151.84 L29.80,151.89 L30.25,152.97 L30.70,153.26 L31.15,153.61 L31.60,152.19 L32.05,150.34 L32.50,148.26 L32.95,146.71 L33.40,146.39 L33.85,145.76 L34.30,144.46 L34.75,142.41 L35.20,141.12 L35.65,139.92 L36.10,139.12 L36.55,138.08 L37.00,136.78 L37.45,135.26 L37.90,134.28 L38.35,132.95 L38.80,132.11 L39.25,131.95 L39.70,131.52 L40.15,130.32 L40.60,130.15 L41.05,129.34 L41.50,126.87 L41.95,124.48 L42.40,125.42 L42.85,127.08 L43.30,126.58 L43.75,125.45 L44.20,124.79 L44.65,124.99 L45.10,124.06 L45.55,125.17 L46.00,126.98 L46.45,129.64 L46.90,131.75 L47.35,135.93 L47.80,140.64 L48.25,144.22 L48.70,147.45 L49.15,151.66 L49.60,155.53 L50.05,159.17 L50.50,163.82 L50.95,169.34 L51.40,173.73 L51.85,177.69 L52.30,182.18 L52.75,185.93 L53.20,189.20 L53.65,191.70 L54.10,193.92 L54.55,195.52 L55.00,196.95 L55.45,197.94 L55.90,198.58 L56.35,199.14 L56.80,199.70 L57.25,200.30 L57.70,200.51 L58.15,200.57 L58.60,200.47 L59.05,200.35 L59.50,200.40 L59.95,200.71 L60.40,201.05 L60.85,201.04 L61.30,201.12 L61.75,201.33" fill="none" stroke="#dc1630" stroke-width="1.8" stroke-linejoin="round" clip-path="url(#c10)"/><path d="M28.00,141.85 L28.45,142.20 L28.90,142.33 L29.35,143.06 L29.80,144.16 L30.25,145.19 L30.70,145.50 L31.15,145.97 L31.60,145.19 L32.05,144.66 L32.50,144.16 L32.95,144.24 L33.40,143.14 L33.85,142.39 L34.30,141.66 L34.75,140.44 L35.20,138.64 L35.65,137.37 L36.10,136.89 L36.55,135.57 L37.00,134.95 L37.45,133.36 L37.90,133.17 L38.35,132.60 L38.80,132.95 L39.25,131.47 L39.70,129.30 L40.15,127.06 L40.60,126.48 L41.05,127.42 L41.50,127.58 L41.95,127.36 L42.40,125.78 L42.85,124.70 L43.30,123.84 L43.75,124.70 L44.20,124.89 L44.65,124.62 L45.10,125.10 L45.55,126.07 L46.00,127.29 L46.45,128.06 L46.90,130.53 L47.35,134.16 L47.80,139.55 L48.25,143.30 L48.70,145.97 L49.15,149.83 L49.60,155.31 L50.05,160.19 L50.50,164.68 L50.95,169.75 L51.40,174.08 L51.85,177.56 L52.30,181.61 L52.75,185.85 L53.20,188.94 L53.65,191.25 L54.10,193.25 L54.55,195.09 L55.00,196.38 L55.45,197.68 L55.90,198.65 L56.35,199.25 L56.80,199.49 L57.25,199.85 L57.70,200.16 L58.15,200.44 L58.60,200.56 L59.05,200.76 L59.50,200.88 L59.95,201.07 L60.40,201.07 L60.85,201.10 L61.30,201.10 L61.75,201.29" fill="none" stroke="#424242" stroke-width="1.8" stroke-linejoin="round" clip-path="url(#c10)"/><path d="M111.00,127.77 L111.45,128.10 L111.90,127.18 L112.35,127.47 L112.80,129.16 L113.25,131.23 L113.70,130.34 L114.15,130.00 L114.60,130.48 L115.05,130.64 L115.50,129.92 L115.95,131.15 L116.40,132.98 L116.85,133.76 L117.30,133.65 L117.75,133.52 L118.20,131.56 L118.65,128.60 L119.10,126.04 L119.55,125.20 L120.00,124.98 L120.45,124.76 L120.90,125.03 L121.35,125.23 L121.80,125.27 L122.25,123.67 L122.70,122.72 L123.15,123.09 L123.60,125.63 L124.05,127.47 L124.50,130.14 L124.95,132.44 L125.40,135.05 L125.85,136.59 L126.30,138.90 L126.75,141.42 L127.20,143.49 L127.65,146.26 L128.10,148.31 L128.55,151.12 L129.00,153.30 L129.45,156.41 L129.90,159.45 L130.35,162.34 L130.80,169.21 L131.25,176.07 L131.70,180.92 L132.15,184.89 L132.60,188.83 L133.05,191.76 L133.50,193.86 L133.95,195.48 L134.40,196.86 L134.85,197.77 L135.30,198.48 L135.75,199.33 L136.20,199.95 L136.65,200.43 L137.10,200.75 L137.55,200.97 L138.00,201.05 L138.45,201.07 L138.90,201.13 L139.35,201.14 L139.80,201.37 L140.25,201.46 L140.70,201.45 L141.15,201.48 L141.60,201.65" fill="none" stroke="#a9a9a9" stroke-width="1.8" stroke-linejoin="round" clip-path="url(#c11)"/><path d="M111.00,125.04 L111.45,126.11 L111.90,128.95 L112.35,131.51 L112.80,131.19 L113.25,130.20 L113.70,128.95 L114.15,128.90 L114.60,128.97 L115.05,129.09 L115.50,129.78 L115.95,131.86 L116.40,133.72 L116.85,133.61 L117.30,132.45 L117.75,131.10 L118.20,129.28 L118.65,126.57 L119.10,125.19 L119.55,124.62 L120.00,124.90 L120.45,124.37 L120.90,124.90 L121.35,125.33 L121.80,125.82 L122.25,124.89 L122.70,123.64 L123.15,124.97 L123.60,127.12 L124.05,129.91 L124.50,130.76 L124.95,131.90 L125.40,133.16 L125.85,135.26 L126.30,137.76 L126.75,140.70 L127.20,144.11 L127.65,147.64 L128.10,149.96 L128.55,152.05 L129.00,153.42 L129.45,155.76 L129.90,158.72 L130.35,161.47 L130.80,167.83 L131.25,174.99 L131.70,180.01 L132.15,184.78 L132.60,187.95 L133.05,190.57 L133.50,192.69 L133.95,195.05 L134.40,196.48 L134.85,197.41 L135.30,198.54 L135.75,199.65 L136.20,200.27 L136.65,200.41 L137.10,200.59 L137.55,200.79 L138.00,200.96 L138.45,201.20 L138.90,201.45 L139.35,201.48 L139.80,201.51 L140.25,201.52 L140.70,201.52 L141.15,201.54 L141.60,201.68" fill="none" stroke="#424242" stroke-width="1.8" stroke-linejoin="round" clip-path="url(#c11)"/><path d="M111.00,128.58 L111.45,129.63 L111.90,129.35 L112.35,129.69 L112.80,129.89 L113.25,130.10 L113.70,129.61 L114.15,128.88 L114.60,127.59 L115.05,126.81 L115.50,127.71 L115.95,129.17 L116.40,130.87 L116.85,132.59 L117.30,132.18 L117.75,130.73 L118.20,129.43 L118.65,128.81 L119.10,126.69 L119.55,125.10 L120.00,124.44 L120.45,124.89 L120.90,124.43 L121.35,124.41 L121.80,124.86 L122.25,124.54 L122.70,124.28 L123.15,124.20 L123.60,125.90 L124.05,127.04 L124.50,129.79 L124.95,132.13 L125.40,134.83 L125.85,136.28 L126.30,138.35 L126.75,140.91 L127.20,143.52 L127.65,145.80 L128.10,148.18 L128.55,151.06 L129.00,153.14 L129.45,155.87 L129.90,158.96 L130.35,162.11 L130.80,168.58 L131.25,176.26 L131.70,180.93 L132.15,184.95 L132.60,188.15 L133.05,190.91 L133.50,193.03 L133.95,194.82 L134.40,196.40 L134.85,197.63 L135.30,198.53 L135.75,199.20 L136.20,199.80 L136.65,200.22 L137.10,200.50 L137.55,200.84 L138.00,201.16 L138.45,201.27 L138.90,201.25 L139.35,201.41 L139.80,201.59 L140.25,201.57 L140.70,201.54 L141.15,201.57 L141.60,201.70" fill="none" stroke="#2424aa" stroke-width="1.8" stroke-linejoin="round" clip-path="url(#c11)"/><path d="M111.00,133.88 L111.45,134.89 L111.90,136.03 L112.35,136.92 L112.80,138.25 L113.25,139.12 L113.70,138.87 L114.15,138.86 L114.60,139.06 L115.05,139.68 L115.50,138.78 L115.95,137.74 L116.40,135.76 L116.85,135.73 L117.30,135.18 L117.75,134.79 L118.20,133.73 L118.65,134.54 L119.10,134.28 L119.55,132.93 L120.00,129.38 L120.45,127.82 L120.90,127.01 L121.35,127.27 L121.80,127.19 L122.25,126.54 L122.70,125.75 L123.15,126.14 L123.60,128.34 L124.05,129.61 L124.50,130.10 L124.95,130.98 L125.40,132.79 L125.85,135.60 L126.30,138.43 L126.75,140.94 L127.20,143.22 L127.65,145.64 L128.10,147.87 L128.55,150.36 L129.00,152.46 L129.45,155.17 L129.90,158.55 L130.35,162.16 L130.80,169.00 L131.25,175.58 L131.70,180.44 L132.15,184.32 L132.60,187.96 L133.05,190.20 L133.50,192.36 L133.95,194.18 L134.40,195.83 L134.85,197.04 L135.30,198.34 L135.75,199.46 L136.20,200.10 L136.65,200.30 L137.10,200.51 L137.55,200.74 L138.00,201.14 L138.45,201.41 L138.90,201.55 L139.35,201.47 L139.80,201.51 L140.25,201.57 L140.70,201.65 L141.15,201.69 L141.60,201.73" fill="none" stroke="#dc1630" stroke-width="1.8" stroke-linejoin="round" clip-path="url(#c11)"/><path d="M194.00,139.72 L194.45,138.74 L194.90,137.87 L195.35,136.96 L195.80,136.14 L196.25,135.67 L196.70,135.14 L197.15,135.05 L197.60,134.11 L198.05,133.15 L198.50,131.76 L198.95,130.40 L199.40,128.41 L199.85,128.19 L200.30,128.51 L200.75,128.56 L201.20,127.46 L201.65,127.50 L202.10,127.69 L202.55,127.68 L203.00,127.32 L203.45,128.45 L203.90,128.27 L204.35,126.91 L204.80,123.35 L205.25,121.57 L205.70,123.21 L206.15,127.64 L206.60,129.66 L207.05,128.40 L207.50,127.87 L207.95,127.72 L208.40,128.53 L208.85,130.27 L209.30,135.18 L209.75,138.65 L210.20,142.25 L210.65,145.56 L211.10,150.54 L211.55,153.98 L212.00,156.73 L212.45,158.94 L212.90,164.12 L213.35,171.18 L213.80,176.32 L214.25,179.59 L214.70,182.14 L215.15,184.93 L215.60,187.83 L216.05,190.49 L216.50,192.41 L216.95,194.10 L217.40,195.67 L217.85,196.58 L218.30,197.42 L218.75,198.36 L219.20,199.08 L219.65,199.24 L220.10,199.36 L220.55,199.59 L221.00,199.54 L221.45,199.66 L221.90,199.68 L222.35,199.90 L222.80,199.91 L223.25,200.15 L223.70,200.44 L224.15,200.63 L224.60,200.59 L225.05,200.51 L225.50,200.57 L225.95,200.45 L226.40,200.18 L226.85,200.17 L227.30,200.66 L227.75,200.95 L228.20,201.03 L228.65,201.03 L229.10,200.98 L229.55,201.00 L230.00,201.07 L230.45,201.27 L230.90,201.25 L231.35,201.01 L231.80,200.91 L232.25,200.77 L232.70,200.97 L233.15,201.02 L233.60,201.18" fill="none" stroke="#a9a9a9" stroke-width="1.8" stroke-linejoin="round" clip-path="url(#c12)"/><path d="M194.00,143.50 L194.45,142.41 L194.90,140.72 L195.35,139.86 L195.80,141.16 L196.25,140.77 L196.70,140.66 L197.15,139.45 L197.60,139.82 L198.05,138.65 L198.50,137.87 L198.95,136.71 L199.40,135.69 L199.85,134.58 L200.30,133.38 L200.75,132.76 L201.20,132.49 L201.65,131.32 L202.10,129.13 L202.55,127.36 L203.00,125.75 L203.45,124.94 L203.90,124.14 L204.35,123.93 L204.80,122.35 L205.25,122.21 L205.70,123.35 L206.15,124.41 L206.60,124.30 L207.05,124.32 L207.50,125.59 L207.95,126.69 L208.40,127.86 L208.85,129.01 L209.30,131.35 L209.75,135.26 L210.20,139.72 L210.65,144.30 L211.10,146.74 L211.55,149.09 L212.00,151.50 L212.45,155.69 L212.90,160.26 L213.35,165.04 L213.80,170.58 L214.25,175.30 L214.70,179.22 L215.15,182.82 L215.60,185.55 L216.05,188.09 L216.50,190.17 L216.95,191.84 L217.40,193.46 L217.85,194.89 L218.30,195.98 L218.75,197.04 L219.20,197.70 L219.65,197.89 L220.10,197.59 L220.55,197.78 L221.00,197.99 L221.45,198.45 L221.90,198.76 L222.35,199.20 L222.80,199.21 L223.25,199.44 L223.70,199.71 L224.15,200.09 L224.60,199.96 L225.05,199.87 L225.50,199.94 L225.95,200.33 L226.40,200.50 L226.85,200.78 L227.30,200.80 L227.75,200.66 L228.20,200.40 L228.65,200.57 L229.10,200.70 L229.55,200.78 L230.00,200.95 L230.45,201.15 L230.90,201.03 L231.35,200.93 L231.80,201.06 L232.25,201.06 L232.70,201.05 L233.15,201.14 L233.60,201.26" fill="none" stroke="#424242" stroke-width="1.8" stroke-linejoin="round" clip-path="url(#c12)"/><path d="M194.00,168.12 L194.45,167.54 L194.90,166.51 L195.35,165.45 L195.80,164.09 L196.25,162.78 L196.70,160.89 L197.15,159.56 L197.60,157.51 L198.05,156.30 L198.50,155.16 L198.95,153.73 L199.40,151.59 L199.85,149.98 L200.30,148.02 L200.75,146.23 L201.20,144.67 L201.65,143.69 L202.10,141.84 L202.55,140.49 L203.00,139.31 L203.45,138.35 L203.90,136.50 L204.35,134.69 L204.80,132.74 L205.25,131.22 L205.70,129.76 L206.15,129.61 L206.60,129.56 L207.05,128.41 L207.50,126.52 L207.95,124.95 L208.40,124.60 L208.85,125.08 L209.30,125.46 L209.75,125.81 L210.20,126.23 L210.65,127.77 L211.10,127.79 L211.55,127.31 L212.00,127.72 L212.45,130.41 L212.90,132.57 L213.35,134.01 L213.80,134.72 L214.25,135.58 L214.70,136.60 L215.15,139.20 L215.60,142.06 L216.05,143.93 L216.50,145.35 L216.95,146.72 L217.40,148.51 L217.85,149.43 L218.30,150.66 L218.75,151.49 L219.20,152.66 L219.65,153.27 L220.10,153.85 L220.55,154.53 L221.00,155.28 L221.45,155.96 L221.90,156.19 L222.35,156.86 L222.80,157.10 L223.25,157.87 L223.70,158.86 L224.15,159.66 L224.60,160.39 L225.05,161.53 L225.50,162.60 L225.95,162.37 L226.40,162.35 L226.85,163.93 L227.30,167.12 L227.75,169.93 L228.20,171.69 L228.65,172.51 L229.10,173.35 L229.55,174.48 L230.00,175.62 L230.45,176.87 L230.90,178.16 L231.35,179.70 L231.80,181.08 L232.25,182.28 L232.70,183.98 L233.15,185.71 L233.60,186.96 L234.05,187.74 L234.50,188.62 L234.95,190.04 L235.40,191.23 L235.85,192.20 L236.30,192.89 L236.75,193.70 L237.20,194.61 L237.65,195.31 L238.10,195.67 L238.55,196.28 L239.00,197.02 L239.45,197.70 L239.90,198.06 L240.35,198.37 L240.80,198.58 L241.25,199.07 L241.70,199.72 L242.15,200.27 L242.60,200.50 L243.05,200.71 L243.50,200.88 L243.95,201.11 L244.40,201.29 L244.85,201.44 L245.30,201.58 L245.75,201.80 L246.20,201.83 L246.65,201.85 L247.10,201.88 L247.55,202.01" fill="none" stroke="#2424aa" stroke-width="1.8" stroke-linejoin="round" clip-path="url(#c12)"/><path d="M194.00,166.97 L194.45,166.99 L194.90,166.76 L195.35,165.98 L195.80,164.33 L196.25,163.88 L196.70,164.13 L197.15,162.72 L197.60,159.56 L198.05,157.64 L198.50,157.19 L198.95,156.64 L199.40,155.25 L199.85,152.52 L200.30,149.88 L200.75,147.96 L201.20,146.82 L201.65,145.52 L202.10,144.75 L202.55,145.78 L203.00,147.04 L203.45,147.63 L203.90,145.96 L204.35,144.57 L204.80,142.94 L205.25,142.50 L205.70,142.73 L206.15,142.35 L206.60,140.36 L207.05,140.04 L207.50,139.80 L207.95,139.08 L208.40,135.37 L208.85,132.56 L209.30,130.51 L209.75,128.00 L210.20,125.38 L210.65,123.46 L211.10,125.49 L211.55,127.32 L212.00,127.31 L212.45,126.38 L212.90,128.93 L213.35,131.80 L213.80,134.14 L214.25,137.19 L214.70,140.60 L215.15,142.49 L215.60,142.89 L216.05,145.69 L216.50,149.21 L216.95,151.18 L217.40,150.81 L217.85,151.17 L218.30,153.73 L218.75,156.06 L219.20,156.18 L219.65,156.10 L220.10,157.24 L220.55,158.46 L221.00,158.15 L221.45,156.96 L221.90,155.85 L222.35,155.47 L222.80,155.51 L223.25,155.77 L223.70,155.94 L224.15,157.55 L224.60,159.55 L225.05,161.19 L225.50,161.77 L225.95,162.20 L226.40,162.18 L226.85,162.29 L227.30,162.60 L227.75,163.16 L228.20,162.51 L228.65,162.92 L229.10,167.59 L229.55,170.79 L230.00,172.08 L230.45,172.54 L230.90,173.68 L231.35,176.13 L231.80,178.14 L232.25,179.80 L232.70,180.48 L233.15,182.12 L233.60,182.94 L234.05,184.32 L234.50,185.54 L234.95,187.16 L235.40,187.88 L235.85,188.51 L236.30,189.20 L236.75,190.40 L237.20,191.43 L237.65,192.49 L238.10,193.54 L238.55,194.29 L239.00,194.86 L239.45,195.41 L239.90,196.31 L240.35,196.98 L240.80,197.74 L241.25,198.26 L241.70,199.14 L242.15,199.71 L242.60,200.37 L243.05,200.42 L243.50,200.60 L243.95,200.78 L244.40,201.29 L244.85,201.53 L245.30,201.71 L245.75,201.62 L246.20,201.75 L246.65,201.70 L247.10,201.61 L247.55,201.36 L248.00,201.48 L248.45,201.70 L248.90,201.90 L249.35,201.93 L249.80,201.99" fill="none" stroke="#dc1630" stroke-width="1.8" stroke-linejoin="round" clip-path="url(#c12)"/><path d="M277.00,161.99 L277.45,160.82 L277.90,159.58 L278.35,158.02 L278.80,156.74 L279.25,155.70 L279.70,154.99 L280.15,154.10 L280.60,153.17 L281.05,151.40 L281.50,149.42 L281.95,148.55 L282.40,147.45 L282.85,146.26 L283.30,144.93 L283.75,143.66 L284.20,142.06 L284.65,140.86 L285.10,139.68 L285.55,138.05 L286.00,136.90 L286.45,135.72 L286.90,134.29 L287.35,133.40 L287.80,133.00 L288.25,131.61 L288.70,129.91 L289.15,129.41 L289.60,128.30 L290.05,127.00 L290.50,125.93 L290.95,125.60 L291.40,124.80 L291.85,124.07 L292.30,124.65 L292.75,125.79 L293.20,126.69 L293.65,127.38 L294.10,129.59 L294.55,133.43 L295.00,137.54 L295.45,141.00 L295.90,144.99 L296.35,149.01 L296.80,154.84 L297.25,162.15 L297.70,168.66 L298.15,174.42 L298.60,180.96 L299.05,186.22 L299.50,189.65 L299.95,192.27 L300.40,194.21 L300.85,195.75 L301.30,196.96 L301.75,198.03 L302.20,198.89 L302.65,199.42 L303.10,199.91 L303.55,200.05 L304.00,200.16 L304.45,200.34 L304.90,200.55 L305.35,200.74 L305.80,200.77 L306.25,200.91 L306.70,201.02 L307.15,201.15 L307.60,201.13 L308.05,201.10 L308.50,201.23 L308.95,201.39 L309.40,201.49 L309.85,201.52" fill="none" stroke="#a9a9a9" stroke-width="1.8" stroke-linejoin="round" clip-path="url(#c13)"/><path d="M277.00,161.72 L277.45,160.95 L277.90,160.10 L278.35,159.14 L278.80,157.29 L279.25,155.89 L279.70,154.62 L280.15,153.53 L280.60,152.20 L281.05,151.07 L281.50,150.14 L281.95,149.13 L282.40,147.58 L282.85,145.96 L283.30,144.41 L283.75,143.27 L284.20,142.11 L284.65,141.16 L285.10,139.61 L285.55,138.48 L286.00,137.22 L286.45,136.12 L286.90,135.07 L287.35,134.19 L287.80,133.41 L288.25,132.38 L288.70,131.31 L289.15,129.59 L289.60,127.93 L290.05,126.97 L290.50,126.08 L290.95,125.22 L291.40,124.36 L291.85,124.03 L292.30,123.78 L292.75,123.99 L293.20,124.96 L293.65,126.96 L294.10,129.45 L294.55,132.91 L295.00,137.03 L295.45,141.24 L295.90,145.24 L296.35,149.12 L296.80,154.89 L297.25,162.32 L297.70,168.72 L298.15,174.36 L298.60,181.06 L299.05,186.25 L299.50,189.61 L299.95,191.91 L300.40,193.92 L300.85,195.61 L301.30,196.93 L301.75,198.01 L302.20,198.88 L302.65,199.40 L303.10,199.64 L303.55,199.89 L304.00,200.22 L304.45,200.46 L304.90,200.60 L305.35,200.65 L305.80,200.57 L306.25,200.64 L306.70,200.88 L307.15,201.06 L307.60,201.17 L308.05,201.16 L308.50,201.25 L308.95,201.29 L309.40,201.40 L309.85,201.45" fill="none" stroke="#dc1630" stroke-width="1.8" stroke-linejoin="round" clip-path="url(#c13)"/><path d="M277.60,164.34 L278.05,163.08 L278.50,161.86 L278.95,160.34 L279.40,158.52 L279.85,156.33 L280.30,154.33 L280.75,153.11 L281.20,152.30 L281.65,151.00 L282.10,149.21 L282.55,148.44 L283.00,147.84 L283.45,147.11 L283.90,145.15 L284.35,143.46 L284.80,142.09 L285.25,141.24 L285.70,139.89 L286.15,138.13 L286.60,136.55 L287.05,135.41 L287.50,134.24 L287.95,133.37 L288.40,132.16 L288.85,131.66 L289.30,130.13 L289.75,128.14 L290.20,126.41 L290.65,125.92 L291.10,125.09 L291.55,124.31 L292.00,124.85 L292.45,124.91 L292.90,125.54 L293.35,126.09 L293.80,128.58 L294.25,131.83 L294.70,136.10 L295.15,139.34 L295.60,143.07 L296.05,147.13 L296.50,151.70 L296.95,157.91 L297.40,164.12 L297.85,170.13 L298.30,176.60 L298.75,182.81 L299.20,186.88 L299.65,189.92 L300.10,192.59 L300.55,194.70 L301.00,196.13 L301.45,197.35 L301.90,198.24 L302.35,198.87 L302.80,199.23 L303.25,199.63 L303.70,199.91 L304.15,200.08 L304.60,200.21 L305.05,200.47 L305.50,200.73 L305.95,200.91 L306.40,201.03 L306.85,201.07 L307.30,201.07 L307.75,201.17 L308.20,201.28 L308.65,201.35 L309.10,201.32 L309.55,201.38" fill="none" stroke="#2424aa" stroke-width="1.8" stroke-linejoin="round" clip-path="url(#c13)"/><path d="M277.00,161.62 L277.45,160.37 L277.90,159.32 L278.35,158.39 L278.80,157.35 L279.25,156.18 L279.70,154.72 L280.15,153.24 L280.60,151.96 L281.05,151.09 L281.50,150.27 L281.95,148.92 L282.40,147.22 L282.85,146.32 L283.30,145.19 L283.75,143.72 L284.20,141.54 L284.65,140.39 L285.10,139.42 L285.55,138.28 L286.00,136.89 L286.45,135.85 L286.90,134.90 L287.35,133.53 L287.80,132.26 L288.25,131.39 L288.70,130.24 L289.15,128.74 L289.60,127.57 L290.05,127.11 L290.50,126.63 L290.95,125.71 L291.40,125.07 L291.85,124.50 L292.30,124.34 L292.75,124.44 L293.20,125.77 L293.65,127.32 L294.10,129.77 L294.55,133.71 L295.00,137.97 L295.45,141.15 L295.90,144.58 L296.35,149.21 L296.80,155.06 L297.25,161.88 L297.70,167.76 L298.15,173.97 L298.60,180.99 L299.05,186.43 L299.50,189.52 L299.95,192.04 L300.40,194.05 L300.85,195.81 L301.30,197.03 L301.75,198.08 L302.20,198.71 L302.65,199.33 L303.10,199.77 L303.55,200.14 L304.00,200.26 L304.45,200.46 L304.90,200.54 L305.35,200.70 L305.80,200.85 L306.25,200.94 L306.70,200.97 L307.15,201.04 L307.60,201.20 L308.05,201.32 L308.50,201.35 L308.95,201.31 L309.40,201.32 L309.85,201.43" fill="none" stroke="#424242" stroke-width="1.8" stroke-linejoin="round" clip-path="url(#c13)"/><path d="M359.60,183.42 L360.05,181.28 L360.50,179.50 L360.95,178.48 L361.40,177.25 L361.85,173.69 L362.30,169.58 L362.75,166.90 L363.20,166.39 L363.65,164.26 L364.10,161.53 L364.55,159.18 L365.00,157.54 L365.45,154.06 L365.90,150.79 L366.35,148.51 L366.80,147.37 L367.25,146.16 L367.70,143.69 L368.15,140.73 L368.60,138.15 L369.05,136.41 L369.50,134.88 L369.95,132.98 L370.40,130.95 L370.85,127.92 L371.30,126.39 L371.75,124.79 L372.20,125.56 L372.65,125.86 L373.10,126.91 L373.55,127.00 L374.00,127.00 L374.45,125.98 L374.90,125.15 L375.35,126.02 L375.80,126.17 L376.25,124.94 L376.70,124.01 L377.15,124.35 L377.60,124.68 L378.05,125.49 L378.50,127.21 L378.95,128.62 L379.40,130.40 L379.85,132.21 L380.30,133.78 L380.75,135.45 L381.20,137.58 L381.65,139.98 L382.10,140.73 L382.55,142.74 L383.00,146.20 L383.45,149.58 L383.90,151.87 L384.35,153.94 L384.80,157.54 L385.25,160.72 L385.70,164.96 L386.15,172.10 L386.60,177.24 L387.05,181.64 L387.50,185.54 L387.95,187.79 L388.40,189.76 L388.85,191.46 L389.30,193.47 L389.75,194.93 L390.20,195.69 L390.65,196.71 L391.10,197.63 L391.55,198.45 L392.00,198.85 L392.45,199.30 L392.90,199.58 L393.35,199.82 L393.80,199.98 L394.25,200.14 L394.70,200.44 L395.15,200.85 L395.60,200.94 L396.05,200.71 L396.50,200.73 L396.95,201.00 L397.40,201.25 L397.85,201.19 L398.30,201.19 L398.75,201.24 L399.20,201.37 L399.65,201.44" fill="none" stroke="#a9a9a9" stroke-width="1.8" stroke-linejoin="round" clip-path="url(#c14)"/><path d="M359.60,183.76 L360.05,182.13 L360.50,180.39 L360.95,178.87 L361.40,177.34 L361.85,174.45 L362.30,171.56 L362.75,168.53 L363.20,166.93 L363.65,164.97 L364.10,162.85 L364.55,159.55 L365.00,156.27 L365.45,153.71 L365.90,151.62 L366.35,148.73 L366.80,145.60 L367.25,143.83 L367.70,142.27 L368.15,140.34 L368.60,138.04 L369.05,135.71 L369.50,133.31 L369.95,132.15 L370.40,132.00 L370.85,130.84 L371.30,128.79 L371.75,126.55 L372.20,125.16 L372.65,125.11 L373.10,125.29 L373.55,125.78 L374.00,126.17 L374.45,127.01 L374.90,125.91 L375.35,126.30 L375.80,125.62 L376.25,126.56 L376.70,126.07 L377.15,126.48 L377.60,126.83 L378.05,126.86 L378.50,127.32 L378.95,128.69 L379.40,130.46 L379.85,131.51 L380.30,132.38 L380.75,135.05 L381.20,136.93 L381.65,140.02 L382.10,142.23 L382.55,144.49 L383.00,146.34 L383.45,148.64 L383.90,152.02 L384.35,155.73 L384.80,159.90 L385.25,163.20 L385.70,167.90 L386.15,173.73 L386.60,177.24 L387.05,180.60 L387.50,184.19 L387.95,186.99 L388.40,189.12 L388.85,190.85 L389.30,192.19 L389.75,194.04 L390.20,195.60 L390.65,196.74 L391.10,197.43 L391.55,198.11 L392.00,198.67 L392.45,199.10 L392.90,199.59 L393.35,199.92 L393.80,200.09 L394.25,200.31 L394.70,200.80 L395.15,201.07 L395.60,201.19 L396.05,201.20 L396.50,201.25 L396.95,201.04 L397.40,200.92 L397.85,201.05 L398.30,201.33 L398.75,201.45 L399.20,201.41 L399.65,201.38" fill="none" stroke="#2424aa" stroke-width="1.8" stroke-linejoin="round" clip-path="url(#c14)"/><path d="M359.60,183.30 L360.05,181.79 L360.50,179.89 L360.95,177.59 L361.40,175.68 L361.85,173.92 L362.30,172.33 L362.75,169.42 L363.20,166.66 L363.65,163.81 L364.10,161.65 L364.55,158.58 L365.00,155.44 L365.45,154.21 L365.90,152.94 L366.35,152.10 L366.80,149.77 L367.25,147.38 L367.70,144.25 L368.15,141.17 L368.60,138.82 L369.05,136.75 L369.50,135.96 L369.95,134.22 L370.40,131.86 L370.85,130.21 L371.30,129.90 L371.75,129.88 L372.20,129.65 L372.65,130.48 L373.10,133.15 L373.55,134.90 L374.00,133.69 L374.45,131.78 L374.90,130.83 L375.35,131.07 L375.80,131.43 L376.25,130.70 L376.70,130.53 L377.15,129.73 L377.60,129.52 L378.05,129.22 L378.50,130.64 L378.95,130.76 L379.40,130.80 L379.85,130.85 L380.30,133.08 L380.75,135.71 L381.20,138.78 L381.65,141.53 L382.10,143.05 L382.55,145.20 L383.00,148.49 L383.45,152.03 L383.90,154.87 L384.35,156.42 L384.80,158.75 L385.25,161.90 L385.70,167.09 L386.15,173.06 L386.60,176.12 L387.05,179.57 L387.50,183.35 L387.95,186.45 L388.40,188.91 L388.85,190.81 L389.30,192.62 L389.75,194.15 L390.20,195.50 L390.65,196.61 L391.10,197.60 L391.55,198.54 L392.00,199.17 L392.45,199.35 L392.90,199.63 L393.35,199.97 L393.80,200.42 L394.25,200.55 L394.70,200.80 L395.15,200.93 L395.60,200.95 L396.05,201.04 L396.50,201.09 L396.95,201.16 L397.40,201.21 L397.85,201.28 L398.30,201.32 L398.75,201.41 L399.20,201.57 L399.65,201.59" fill="none" stroke="#dc1630" stroke-width="1.8" stroke-linejoin="round" clip-path="url(#c14)"/><path d="M359.60,182.50 L360.05,180.67 L360.50,179.62 L360.95,178.07 L361.40,175.89 L361.85,173.11 L362.30,171.20 L362.75,168.68 L363.20,165.87 L363.65,163.16 L364.10,161.21 L364.55,159.08 L365.00,156.44 L365.45,153.60 L365.90,150.58 L366.35,148.71 L366.80,147.09 L367.25,145.63 L367.70,143.41 L368.15,141.90 L368.60,139.99 L369.05,137.75 L369.50,134.93 L369.95,132.37 L370.40,130.12 L370.85,128.29 L371.30,127.88 L371.75,126.92 L372.20,125.46 L372.65,124.43 L373.10,125.80 L373.55,126.75 L374.00,125.86 L374.45,124.71 L374.90,125.23 L375.35,125.86 L375.80,125.64 L376.25,125.27 L376.70,126.01 L377.15,125.71 L377.60,125.64 L378.05,126.84 L378.50,128.65 L378.95,128.26 L379.40,128.68 L379.85,131.49 L380.30,134.50 L380.75,135.86 L381.20,136.79 L381.65,139.15 L382.10,141.56 L382.55,144.27 L383.00,147.04 L383.45,149.96 L383.90,153.07 L384.35,156.02 L384.80,158.31 L385.25,161.21 L385.70,165.18 L386.15,172.39 L386.60,176.47 L387.05,180.37 L387.50,183.78 L387.95,186.46 L388.40,188.97 L388.85,191.32 L389.30,193.20 L389.75,194.57 L390.20,195.36 L390.65,196.48 L391.10,197.19 L391.55,197.93 L392.00,198.34 L392.45,199.05 L392.90,199.53 L393.35,199.94 L393.80,200.22 L394.25,200.61 L394.70,200.87 L395.15,200.93 L395.60,201.05 L396.05,201.21 L396.50,201.27 L396.95,201.33 L397.40,201.30 L397.85,201.29 L398.30,201.31 L398.75,201.51 L399.20,201.58 L399.65,201.54" fill="none" stroke="#424242" stroke-width="1.8" stroke-linejoin="round" clip-path="url(#c14)"/><path d="M28.00,245.44 L28.45,246.57 L28.90,248.15 L29.35,248.46 L29.80,249.53 L30.25,250.43 L30.70,250.31 L31.15,248.64 L31.60,247.38 L32.05,246.92 L32.50,247.54 L32.95,248.08 L33.40,247.36 L33.85,245.66 L34.30,245.25 L34.75,245.36 L35.20,244.31 L35.65,242.43 L36.10,241.18 L36.55,240.73 L37.00,240.38 L37.45,239.54 L37.90,238.35 L38.35,237.19 L38.80,236.65 L39.25,235.23 L39.70,233.77 L40.15,233.66 L40.60,233.73 L41.05,233.22 L41.50,232.33 L41.95,232.02 L42.40,231.56 L42.85,232.13 L43.30,233.37 L43.75,233.13 L44.20,232.68 L44.65,233.54 L45.10,236.23 L45.55,239.31 L46.00,243.98 L46.45,248.17 L46.90,252.04 L47.35,254.88 L47.80,258.39 L48.25,261.90 L48.70,265.98 L49.15,269.89 L49.60,275.36 L50.05,280.43 L50.50,283.97 L50.95,287.43 L51.40,290.88 L51.85,293.86 L52.30,296.19 L52.75,298.11 L53.20,300.26 L53.65,302.19 L54.10,303.66 L54.55,304.71 L55.00,305.61 L55.45,306.24 L55.90,306.57 L56.35,306.96 L56.80,307.35 L57.25,307.67 L57.70,307.81 L58.15,307.85 L58.60,307.77 L59.05,307.72 L59.50,307.72 L59.95,307.81 L60.40,307.91 L60.85,308.09 L61.30,308.25 L61.75,308.29 L62.20,308.27 L62.65,308.18 L63.10,308.18 L63.55,308.18 L64.00,308.32 L64.45,308.43 L64.90,308.50 L65.35,308.56 L65.80,308.56 L66.25,308.63 L66.70,308.76 L67.15,308.99 L67.60,309.01 L68.05,308.99 L68.50,308.92 L68.95,309.07 L69.40,309.19 L69.85,309.32" fill="none" stroke="#a9a9a9" stroke-width="1.8" stroke-linejoin="round" clip-path="url(#c20)"/><path d="M28.00,245.79 L28.45,246.82 L28.90,248.13 L29.35,248.74 L29.80,248.66 L30.25,249.22 L30.70,249.83 L31.15,249.66 L31.60,248.70 L32.05,248.35 L32.50,248.33 L32.95,248.02 L33.40,247.27 L33.85,246.47 L34.30,245.27 L34.75,244.05 L35.20,242.90 L35.65,242.55 L36.10,241.83 L36.55,241.18 L37.00,239.77 L37.45,239.14 L37.90,238.24 L38.35,237.05 L38.80,235.44 L39.25,234.67 L39.70,234.15 L40.15,233.71 L40.60,233.22 L41.05,233.55 L41.50,233.23 L41.95,232.39 L42.40,231.20 L42.85,231.52 L43.30,232.36 L43.75,232.82 L44.20,232.77 L44.65,233.83 L45.10,237.16 L45.55,240.98 L46.00,244.70 L46.45,247.64 L46.90,250.88 L47.35,254.49 L47.80,258.49 L48.25,262.54 L48.70,266.30 L49.15,269.98 L49.60,275.05 L50.05,280.33 L50.50,284.58 L50.95,288.06 L51.40,291.06 L51.85,293.71 L52.30,296.37 L52.75,298.63 L53.20,300.79 L53.65,302.35 L54.10,303.72 L54.55,304.61 L55.00,305.43 L55.45,306.00 L55.90,306.63 L56.35,307.05 L56.80,307.34 L57.25,307.46 L57.70,307.50 L58.15,307.61 L58.60,307.73 L59.05,307.73 L59.50,307.66 L59.95,307.67 L60.40,307.83 L60.85,307.97 L61.30,308.11 L61.75,308.12 L62.20,308.17 L62.65,308.25 L63.10,308.34 L63.55,308.41 L64.00,308.43 L64.45,308.48 L64.90,308.51 L65.35,308.55 L65.80,308.65 L66.25,308.73 L66.70,308.83 L67.15,308.90 L67.60,309.01 L68.05,309.09 L68.50,309.14 L68.95,309.16 L69.40,309.19 L69.85,309.26" fill="none" stroke="#2424aa" stroke-width="1.8" stroke-linejoin="round" clip-path="url(#c20)"/><path d="M28.00,246.33 L28.45,247.11 L28.90,247.52 L29.35,247.52 L29.80,248.78 L30.25,250.12 L30.70,250.66 L31.15,249.60 L31.60,249.20 L32.05,249.01 L32.50,248.73 L32.95,247.45 L33.40,246.23 L33.85,245.22 L34.30,244.53 L34.75,243.70 L35.20,243.27 L35.65,242.50 L36.10,241.70 L36.55,241.21 L37.00,240.43 L37.45,238.75 L37.90,237.12 L38.35,235.75 L38.80,235.07 L39.25,234.54 L39.70,234.47 L40.15,233.59 L40.60,232.04 L41.05,231.66 L41.50,231.87 L41.95,231.97 L42.40,232.15 L42.85,231.92 L43.30,231.45 L43.75,230.21 L44.20,231.27 L44.65,234.05 L45.10,237.92 L45.55,240.91 L46.00,243.71 L46.45,247.20 L46.90,250.73 L47.35,254.09 L47.80,257.99 L48.25,262.41 L48.70,266.43 L49.15,269.87 L49.60,274.94 L50.05,279.95 L50.50,284.23 L50.95,288.07 L51.40,291.37 L51.85,294.05 L52.30,296.46 L52.75,298.75 L53.20,300.59 L53.65,302.19 L54.10,303.50 L54.55,304.87 L55.00,305.62 L55.45,306.10 L55.90,306.45 L56.35,306.90 L56.80,307.25 L57.25,307.48 L57.70,307.59 L58.15,307.70 L58.60,307.92 L59.05,307.92 L59.50,307.85 L59.95,307.85 L60.40,307.99 L60.85,308.11 L61.30,308.12 L61.75,308.08 L62.20,308.11 L62.65,308.09 L63.10,308.13 L63.55,308.32 L64.00,308.58 L64.45,308.65 L64.90,308.56 L65.35,308.60 L65.80,308.66 L66.25,308.85 L66.70,308.90 L67.15,308.81 L67.60,308.80 L68.05,309.00 L68.50,309.16 L68.95,309.11 L69.40,309.07 L69.85,309.17" fill="none" stroke="#dc1630" stroke-width="1.8" stroke-linejoin="round" clip-path="url(#c20)"/><path d="M28.00,246.66 L28.45,247.54 L28.90,248.38 L29.35,249.57 L29.80,250.48 L30.25,250.72 L30.70,249.99 L31.15,249.33 L31.60,248.75 L32.05,248.60 L32.50,248.23 L32.95,247.50 L33.40,246.45 L33.85,245.91 L34.30,245.44 L34.75,244.21 L35.20,243.14 L35.65,242.54 L36.10,242.30 L36.55,241.71 L37.00,240.40 L37.45,238.76 L37.90,237.63 L38.35,236.36 L38.80,235.51 L39.25,234.27 L39.70,233.62 L40.15,233.21 L40.60,233.25 L41.05,232.81 L41.50,232.13 L41.95,231.99 L42.40,231.71 L42.85,231.62 L43.30,232.62 L43.75,233.54 L44.20,234.08 L44.65,235.17 L45.10,238.15 L45.55,241.37 L46.00,244.23 L46.45,247.38 L46.90,250.88 L47.35,255.26 L47.80,258.94 L48.25,262.93 L48.70,265.95 L49.15,269.51 L49.60,274.41 L50.05,279.76 L50.50,284.13 L50.95,287.97 L51.40,291.23 L51.85,293.79 L52.30,296.51 L52.75,298.86 L53.20,300.56 L53.65,302.04 L54.10,303.40 L54.55,304.90 L55.00,305.81 L55.45,306.48 L55.90,306.58 L56.35,306.90 L56.80,307.19 L57.25,307.41 L57.70,307.43 L58.15,307.65 L58.60,307.74 L59.05,307.79 L59.50,307.81 L59.95,307.89 L60.40,307.85 L60.85,307.88 L61.30,307.96 L61.75,308.07 L62.20,308.24 L62.65,308.39 L63.10,308.44 L63.55,308.48 L64.00,308.45 L64.45,308.52 L64.90,308.52 L65.35,308.59 L65.80,308.66 L66.25,308.76 L66.70,308.85 L67.15,308.84 L67.60,308.89 L68.05,308.96 L68.50,309.15 L68.95,309.20 L69.40,309.27 L69.85,309.31" fill="none" stroke="#424242" stroke-width="1.8" stroke-linejoin="round" clip-path="url(#c20)"/><path d="M111.00,266.51 L111.45,263.52 L111.90,261.33 L112.35,259.25 L112.80,257.18 L113.25,255.29 L113.70,254.00 L114.15,251.82 L114.60,249.91 L115.05,248.31 L115.50,246.93 L115.95,244.74 L116.40,242.97 L116.85,241.16 L117.30,238.97 L117.75,237.38 L118.20,236.94 L118.65,236.31 L119.10,235.33 L119.55,233.99 L120.00,233.04 L120.45,232.40 L120.90,233.60 L121.35,237.07 L121.80,240.14 L122.25,241.37 L122.70,242.42 L123.15,244.71 L123.60,247.40 L124.05,249.27 L124.50,251.40 L124.95,254.02 L125.40,256.32 L125.85,258.66 L126.30,261.54 L126.75,265.71 L127.20,270.44 L127.65,278.83 L128.10,285.61 L128.55,290.59 L129.00,294.36 L129.45,297.62 L129.90,300.58 L130.35,302.17 L130.80,303.52 L131.25,304.77 L131.70,306.06 L132.15,306.99 L132.60,307.62 L133.05,307.80 L133.50,307.99 L133.95,308.23 L134.40,308.55 L134.85,308.64 L135.30,308.75 L135.75,308.79 L136.20,308.89 L136.65,309.05 L137.10,309.21 L137.55,309.29 L138.00,309.20 L138.45,309.16 L138.90,309.22 L139.35,309.38 L139.80,309.49" fill="none" stroke="#424242" stroke-width="1.8" stroke-linejoin="round" clip-path="url(#c21)"/><path d="M111.00,266.22 L111.45,262.40 L111.90,259.55 L112.35,256.39 L112.80,253.64 L113.25,251.44 L113.70,250.25 L114.15,249.19 L114.60,248.02 L115.05,247.06 L115.50,245.29 L115.95,242.72 L116.40,240.10 L116.85,238.53 L117.30,238.30 L117.75,237.27 L118.20,234.58 L118.65,232.08 L119.10,231.70 L119.55,232.18 L120.00,232.33 L120.45,233.27 L120.90,235.72 L121.35,238.69 L121.80,239.45 L122.25,240.30 L122.70,242.38 L123.15,246.58 L123.60,249.78 L124.05,251.20 L124.50,252.84 L124.95,254.98 L125.40,257.83 L125.85,259.94 L126.30,262.97 L126.75,266.76 L127.20,270.61 L127.65,278.15 L128.10,284.41 L128.55,290.63 L129.00,295.02 L129.45,298.05 L129.90,300.46 L130.35,302.60 L130.80,304.09 L131.25,305.33 L131.70,306.30 L132.15,307.25 L132.60,307.40 L133.05,307.60 L133.50,307.76 L133.95,308.12 L134.40,308.17 L134.85,308.32 L135.30,308.52 L135.75,308.69 L136.20,308.73 L136.65,308.89 L137.10,309.06 L137.55,309.21 L138.00,309.37 L138.45,309.45 L138.90,309.42 L139.35,309.32 L139.80,309.37" fill="none" stroke="#2424aa" stroke-width="1.8" stroke-linejoin="round" clip-path="url(#c21)"/><path d="M111.00,267.69 L111.45,262.24 L111.90,259.67 L112.35,257.73 L112.80,257.05 L113.25,256.37 L113.70,255.50 L114.15,254.55 L114.60,253.30 L115.05,252.25 L115.50,251.70 L115.95,251.36 L116.40,250.78 L116.85,250.50 L117.30,249.18 L117.75,248.04 L118.20,245.88 L118.65,244.64 L119.10,243.52 L119.55,243.98 L120.00,243.61 L120.45,242.84 L120.90,242.75 L121.35,242.79 L121.80,242.93 L122.25,242.00 L122.70,242.46 L123.15,243.07 L123.60,246.33 L124.05,250.32 L124.50,253.39 L124.95,254.78 L125.40,256.84 L125.85,259.21 L126.30,261.78 L126.75,264.88 L127.20,269.81 L127.65,278.13 L128.10,284.29 L128.55,289.97 L129.00,294.72 L129.45,298.17 L129.90,300.40 L130.35,302.37 L130.80,304.03 L131.25,305.18 L131.70,306.30 L132.15,307.17 L132.60,307.70 L133.05,307.76 L133.50,307.83 L133.95,308.12 L134.40,308.45 L134.85,308.70 L135.30,308.69 L135.75,308.75 L136.20,308.76 L136.65,308.86 L137.10,308.96 L137.55,309.18 L138.00,309.25 L138.45,309.23 L138.90,309.25 L139.35,309.41 L139.80,309.52" fill="none" stroke="#dc1630" stroke-width="1.8" stroke-linejoin="round" clip-path="url(#c21)"/><path d="M118.50,236.22 L118.95,234.51 L119.40,233.75 L119.85,233.91 L120.30,234.54 L120.75,235.64 L121.20,237.05 L121.65,238.95 L122.10,240.99 L122.55,243.32 L123.00,245.34 L123.45,247.01 L123.90,249.04 L124.35,251.31 L124.80,254.30 L125.25,257.16 L125.70,260.04 L126.15,262.67 L126.60,265.57 L127.05,268.58 L127.50,274.90 L127.95,282.18 L128.40,288.23 L128.85,293.16 L129.30,296.56 L129.75,299.33 L130.20,301.55 L130.65,303.39 L131.10,304.93 L131.55,306.04 L132.00,306.82 L132.45,307.21 L132.90,307.60 L133.35,307.91 L133.80,308.21 L134.25,308.40 L134.70,308.54 L135.15,308.71 L135.60,308.89 L136.05,308.95 L136.50,308.99 L136.95,309.05 L137.40,309.18 L137.85,309.27 L138.30,309.33 L138.75,309.37 L139.20,309.40 L139.65,309.44" fill="none" stroke="#a9a9a9" stroke-width="2.0" stroke-linejoin="round" clip-path="url(#c21)"/><path d="M194.00,290.65 L194.45,290.03 L194.90,288.48 L195.35,287.10 L195.80,286.45 L196.25,285.98 L196.70,284.57 L197.15,283.69 L197.60,282.72 L198.05,282.31 L198.50,281.81 L198.95,282.62 L199.40,282.58 L199.85,281.89 L200.30,280.18 L200.75,278.60 L201.20,276.96 L201.65,275.39 L202.10,274.57 L202.55,274.21 L203.00,273.13 L203.45,271.21 L203.90,269.63 L204.35,269.18 L204.80,268.68 L205.25,268.00 L205.70,266.39 L206.15,264.37 L206.60,262.40 L207.05,260.12 L207.50,257.97 L207.95,255.44 L208.40,253.47 L208.85,250.16 L209.30,246.90 L209.75,243.36 L210.20,241.84 L210.65,240.93 L211.10,240.30 L211.55,238.10 L212.00,236.46 L212.45,236.00 L212.90,236.75 L213.35,236.53 L213.80,234.67 L214.25,233.34 L214.70,233.23 L215.15,232.98 L215.60,232.04 L216.05,231.98 L216.50,233.62 L216.95,234.78 L217.40,234.92 L217.85,236.09 L218.30,239.55 L218.75,243.13 L219.20,245.17 L219.65,246.61 L220.10,249.03 L220.55,252.61 L221.00,259.88 L221.45,264.16 L221.90,267.42 L222.35,270.55 L222.80,275.15 L223.25,279.85 L223.70,284.14 L224.15,288.47 L224.60,292.89 L225.05,296.69 L225.50,299.78 L225.95,301.97 L226.40,303.80 L226.85,305.36 L227.30,306.68 L227.75,307.14 L228.20,307.56 L228.65,307.94 L229.10,308.39 L229.55,308.44 L230.00,308.48 L230.45,308.46 L230.90,308.63 L231.35,308.72 L231.80,308.78 L232.25,308.81 L232.70,308.68 L233.15,308.71 L233.60,308.89 L234.05,309.14 L234.50,309.11 L234.95,309.14 L235.40,309.31 L235.85,309.49 L236.30,309.39 L236.75,309.24 L237.20,309.17 L237.65,309.30 L238.10,309.37 L238.55,309.41 L239.00,309.46 L239.45,309.55 L239.90,309.56 L240.35,309.57 L240.80,309.58" fill="none" stroke="#424242" stroke-width="1.8" stroke-linejoin="round" clip-path="url(#c22)"/><path d="M194.00,291.05 L194.45,290.49 L194.90,289.38 L195.35,289.15 L195.80,288.51 L196.25,288.20 L196.70,287.28 L197.15,286.75 L197.60,285.88 L198.05,284.45 L198.50,283.39 L198.95,282.51 L199.40,282.14 L199.85,280.45 L200.30,278.83 L200.75,277.84 L201.20,278.05 L201.65,277.53 L202.10,276.00 L202.55,274.34 L203.00,273.05 L203.45,270.97 L203.90,269.17 L204.35,267.97 L204.80,267.62 L205.25,266.74 L205.70,265.32 L206.15,264.16 L206.60,262.90 L207.05,262.02 L207.50,260.24 L207.95,258.66 L208.40,257.29 L208.85,254.50 L209.30,250.10 L209.75,246.04 L210.20,244.87 L210.65,243.76 L211.10,241.64 L211.55,238.94 L212.00,237.32 L212.45,235.88 L212.90,236.97 L213.35,236.97 L213.80,235.25 L214.25,232.43 L214.70,232.70 L215.15,232.41 L215.60,231.49 L216.05,231.03 L216.50,232.51 L216.95,232.93 L217.40,233.62 L217.85,236.06 L218.30,238.78 L218.75,240.06 L219.20,241.70 L219.65,245.22 L220.10,248.08 L220.55,250.34 L221.00,254.02 L221.45,261.41 L221.90,265.88 L222.35,269.82 L222.80,272.67 L223.25,276.25 L223.70,279.83 L224.15,284.72 L224.60,288.98 L225.05,293.49 L225.50,296.86 L225.95,300.10 L226.40,302.52 L226.85,304.42 L227.30,305.64 L227.75,306.49 L228.20,306.96 L228.65,307.48 L229.10,308.09 L229.55,308.34 L230.00,308.47 L230.45,308.40 L230.90,308.59 L231.35,308.65 L231.80,308.80 L232.25,308.92 L232.70,309.19 L233.15,309.23 L233.60,309.07 L234.05,308.91 L234.50,308.99 L234.95,309.11 L235.40,309.16 L235.85,309.11 L236.30,309.13 L236.75,309.17 L237.20,309.30 L237.65,309.34 L238.10,309.45 L238.55,309.50 L239.00,309.57 L239.45,309.53 L239.90,309.44 L240.35,309.45 L240.80,309.50" fill="none" stroke="#dc1630" stroke-width="1.8" stroke-linejoin="round" clip-path="url(#c22)"/><path d="M194.00,289.58 L194.45,288.80 L194.90,288.65 L195.35,288.09 L195.80,286.76 L196.25,285.23 L196.70,285.22 L197.15,285.07 L197.60,284.02 L198.05,282.51 L198.50,282.11 L198.95,281.95 L199.40,281.93 L199.85,281.07 L200.30,279.16 L200.75,277.81 L201.20,277.29 L201.65,276.71 L202.10,274.65 L202.55,272.74 L203.00,271.94 L203.45,270.65 L203.90,269.04 L204.35,266.63 L204.80,266.50 L205.25,265.93 L205.70,264.55 L206.15,262.57 L206.60,262.00 L207.05,260.40 L207.50,257.29 L207.95,254.28 L208.40,252.40 L208.85,249.22 L209.30,245.34 L209.75,242.53 L210.20,241.66 L210.65,239.72 L211.10,238.37 L211.55,237.52 L212.00,238.60 L212.45,236.18 L212.90,233.91 L213.35,232.03 L213.80,233.61 L214.25,232.87 L214.70,231.78 L215.15,230.90 L215.60,232.07 L216.05,232.94 L216.50,232.46 L216.95,233.83 L217.40,235.34 L217.85,238.18 L218.30,240.57 L218.75,243.46 L219.20,245.60 L219.65,246.73 L220.10,249.07 L220.55,252.22 L221.00,258.90 L221.45,263.14 L221.90,267.10 L222.35,272.04 L222.80,276.11 L223.25,279.58 L223.70,283.21 L224.15,287.74 L224.60,292.93 L225.05,297.11 L225.50,300.43 L225.95,302.32 L226.40,304.22 L226.85,305.70 L227.30,306.61 L227.75,307.03 L228.20,307.32 L228.65,307.85 L229.10,308.16 L229.55,308.36 L230.00,308.31 L230.45,308.23 L230.90,308.53 L231.35,308.77 L231.80,309.01 L232.25,309.05 L232.70,309.08 L233.15,309.00 L233.60,308.92 L234.05,309.01 L234.50,309.05 L234.95,309.07 L235.40,309.11 L235.85,309.21 L236.30,309.22 L236.75,309.16 L237.20,309.13 L237.65,309.24 L238.10,309.42 L238.55,309.55 L239.00,309.51 L239.45,309.48 L239.90,309.48 L240.35,309.59 L240.80,309.61" fill="none" stroke="#2424aa" stroke-width="1.8" stroke-linejoin="round" clip-path="url(#c22)"/><path d="M194.00,290.75 L194.45,290.17 L194.90,289.70 L195.35,289.04 L195.80,288.62 L196.25,288.03 L196.70,287.21 L197.15,285.92 L197.60,285.20 L198.05,284.50 L198.50,284.40 L198.95,284.06 L199.40,282.85 L199.85,281.79 L200.30,280.51 L200.75,279.50 L201.20,277.82 L201.65,277.18 L202.10,276.90 L202.55,277.02 L203.00,275.34 L203.45,272.92 L203.90,270.73 L204.35,269.88 L204.80,267.81 L205.25,265.99 L205.70,265.02 L206.15,264.56 L206.60,263.05 L207.05,261.98 L207.50,260.46 L207.95,258.96 L208.40,255.59 L208.85,251.09 L209.30,247.70 L209.75,245.94 L210.20,245.02 L210.65,242.82 L211.10,240.90 L211.55,239.18 L212.00,238.78 L212.45,237.93 L212.90,236.65 L213.35,235.15 L213.80,234.86 L214.25,235.50 L214.70,234.82 L215.15,235.05 L215.60,234.17 L216.05,233.98 L216.50,232.40 L216.95,233.30 L217.40,235.49 L217.85,236.93 L218.30,238.10 L218.75,239.76 L219.20,242.42 L219.65,244.20 L220.10,246.86 L220.55,250.45 L221.00,254.85 L221.45,261.03 L221.90,265.11 L222.35,269.48 L222.80,273.82 L223.25,277.83 L223.70,281.32 L224.15,285.36 L224.60,289.45 L225.05,293.14 L225.50,296.18 L225.95,299.34 L226.40,302.20 L226.85,304.07 L227.30,305.47 L227.75,306.57 L228.20,307.20 L228.65,307.64 L229.10,307.85 L229.55,308.07 L230.00,308.05 L230.45,308.16 L230.90,308.38 L231.35,308.68 L231.80,308.83 L232.25,308.79 L232.70,308.74 L233.15,308.70 L233.60,308.82 L234.05,308.96 L234.50,309.17 L234.95,309.36 L235.40,309.46 L235.85,309.32 L236.30,309.22 L236.75,309.20 L237.20,309.23 L237.65,309.23 L238.10,309.28 L238.55,309.33 L239.00,309.36 L239.45,309.30 L239.90,309.29 L240.35,309.38 L240.80,309.51" fill="none" stroke="#a9a9a9" stroke-width="1.8" stroke-linejoin="round" clip-path="url(#c22)"/><path d="M277.00,268.65 L277.45,267.54 L277.90,265.86 L278.35,263.94 L278.80,262.32 L279.25,262.58 L279.70,262.90 L280.15,262.23 L280.60,260.58 L281.05,258.28 L281.50,256.50 L281.95,255.63 L282.40,254.70 L282.85,252.60 L283.30,250.68 L283.75,249.55 L284.20,247.96 L284.65,246.16 L285.10,244.07 L285.55,244.63 L286.00,244.91 L286.45,244.27 L286.90,242.23 L287.35,240.40 L287.80,237.79 L288.25,234.72 L288.70,232.77 L289.15,234.36 L289.60,234.78 L290.05,233.16 L290.50,232.85 L290.95,236.56 L291.40,240.80 L291.85,244.80 L292.30,249.32 L292.75,252.57 L293.20,255.34 L293.65,259.00 L294.10,263.55 L294.55,267.28 L295.00,272.09 L295.45,276.97 L295.90,281.71 L296.35,283.68 L296.80,286.36 L297.25,290.49 L297.70,294.73 L298.15,297.00 L298.60,298.57 L299.05,300.23 L299.50,302.06 L299.95,303.22 L300.40,303.09 L300.85,303.23 L301.30,303.53 L301.75,304.60 L302.20,305.20 L302.65,305.63 L303.10,305.59 L303.55,305.81 L304.00,305.66 L304.45,305.64 L304.90,305.82 L305.35,305.73 L305.80,305.82 L306.25,306.21 L306.70,306.72 L307.15,306.75 L307.60,306.74 L308.05,306.99 L308.50,307.08 L308.95,307.09 L309.40,307.32 L309.85,307.75 L310.30,307.99 L310.75,307.84 L311.20,307.93 L311.65,308.22 L312.10,308.41 L312.55,308.57 L313.00,308.46 L313.45,308.33 L313.90,308.30 L314.35,308.54 L314.80,308.70 L315.25,308.66 L315.70,308.66 L316.15,308.83 L316.60,309.08 L317.05,309.08 L317.50,309.10 L317.95,309.19 L318.40,309.36 L318.85,309.43 L319.30,309.50 L319.75,309.53" fill="none" stroke="#a9a9a9" stroke-width="1.8" stroke-linejoin="round" clip-path="url(#c23)"/><path d="M277.00,268.35 L277.45,267.58 L277.90,267.59 L278.35,266.14 L278.80,264.47 L279.25,262.40 L279.70,261.16 L280.15,259.98 L280.60,259.11 L281.05,258.84 L281.50,256.34 L281.95,254.37 L282.40,251.94 L282.85,251.79 L283.30,250.79 L283.75,249.06 L284.20,248.09 L284.65,246.50 L285.10,245.96 L285.55,245.05 L286.00,244.09 L286.45,242.88 L286.90,241.58 L287.35,240.14 L287.80,237.71 L288.25,236.46 L288.70,235.79 L289.15,234.11 L289.60,233.00 L290.05,233.09 L290.50,235.41 L290.95,238.98 L291.40,242.58 L291.85,245.26 L292.30,248.33 L292.75,251.86 L293.20,256.09 L293.65,259.91 L294.10,263.16 L294.55,266.45 L295.00,270.90 L295.45,275.35 L295.90,279.31 L296.35,283.57 L296.80,288.03 L297.25,292.29 L297.70,294.85 L298.15,297.05 L298.60,298.59 L299.05,300.08 L299.50,301.58 L299.95,302.65 L300.40,303.18 L300.85,303.52 L301.30,303.99 L301.75,304.46 L302.20,304.80 L302.65,305.32 L303.10,305.47 L303.55,305.51 L304.00,305.31 L304.45,305.28 L304.90,305.58 L305.35,305.90 L305.80,306.39 L306.25,306.55 L306.70,306.73 L307.15,306.76 L307.60,306.75 L308.05,306.85 L308.50,307.04 L308.95,307.22 L309.40,307.22 L309.85,307.39 L310.30,307.66 L310.75,307.85 L311.20,307.96 L311.65,308.15 L312.10,308.21 L312.55,308.20 L313.00,308.16 L313.45,308.31 L313.90,308.40 L314.35,308.39 L314.80,308.35 L315.25,308.58 L315.70,308.82 L316.15,309.05 L316.60,309.09 L317.05,309.13 L317.50,309.21 L317.95,309.36 L318.40,309.53 L318.85,309.45 L319.30,309.37 L319.75,309.36" fill="none" stroke="#424242" stroke-width="1.8" stroke-linejoin="round" clip-path="url(#c23)"/><path d="M277.00,304.86 L277.45,304.47 L277.90,304.16 L278.35,303.84 L278.80,303.29 L279.25,302.82 L279.70,302.33 L280.15,301.73 L280.60,301.20 L281.05,300.69 L281.50,300.00 L281.95,299.04 L282.40,298.02 L282.85,296.91 L283.30,295.68 L283.75,294.53 L284.20,293.17 L284.65,291.59 L285.10,289.89 L285.55,288.40 L286.00,286.77 L286.45,284.61 L286.90,282.56 L287.35,280.28 L287.80,277.92 L288.25,276.06 L288.70,274.70 L289.15,273.32 L289.60,271.37 L290.05,269.78 L290.50,267.48 L290.95,265.53 L291.40,263.44 L291.85,261.64 L292.30,259.29 L292.75,256.37 L293.20,253.03 L293.65,249.78 L294.10,246.94 L294.55,244.26 L295.00,240.91 L295.45,238.81 L295.90,237.10 L296.35,235.50 L296.80,232.55 L297.25,231.31 L297.70,231.12 L298.15,233.37 L298.60,235.98 L299.05,239.21 L299.50,241.25 L299.95,244.00 L300.40,246.91 L300.85,249.52 L301.30,252.01 L301.75,254.56 L302.20,256.86 L302.65,259.20 L303.10,261.44 L303.55,263.90 L304.00,265.81 L304.45,268.69 L304.90,275.44 L305.35,282.26 L305.80,285.48 L306.25,287.65 L306.70,289.44 L307.15,291.68 L307.60,293.92 L308.05,295.70 L308.50,296.95 L308.95,298.10 L309.40,299.38 L309.85,300.41 L310.30,301.18 L310.75,301.80 L311.20,302.45 L311.65,302.90 L312.10,303.55 L312.55,304.18 L313.00,304.51 L313.45,304.51 L313.90,304.71 L314.35,305.24 L314.80,305.81 L315.25,306.17 L315.70,306.49 L316.15,306.60 L316.60,306.79 L317.05,306.96 L317.50,307.19 L317.95,307.33 L318.40,307.54 L318.85,307.80 L319.30,308.03 L319.75,308.03 L320.20,308.16 L320.65,308.36 L321.10,308.65 L321.55,308.66 L322.00,308.61 L322.45,308.61 L322.90,308.71 L323.35,308.84 L323.80,308.80 L324.25,308.81 L324.70,308.87 L325.15,308.98 L325.60,309.00 L326.05,309.10 L326.50,309.23 L326.95,309.26 L327.40,309.28 L327.85,309.31 L328.30,309.33 L328.75,309.30 L329.20,309.33 L329.65,309.40 L330.10,309.46 L330.55,309.51 L331.00,309.52 L331.45,309.56 L331.90,309.58 L332.35,309.62 L332.80,309.62 L333.25,309.68 L333.70,309.72 L334.15,309.76 L334.60,309.77" fill="none" stroke="#2424aa" stroke-width="1.8" stroke-linejoin="round" clip-path="url(#c23)"/><path d="M359.50,271.63 L359.95,270.78 L360.40,270.09 L360.85,268.40 L361.30,266.69 L361.75,265.36 L362.20,264.71 L362.65,262.20 L363.10,260.00 L363.55,258.05 L364.00,256.90 L364.45,254.78 L364.90,251.99 L365.35,249.26 L365.80,247.71 L366.25,245.23 L366.70,242.09 L367.15,238.89 L367.60,237.63 L368.05,236.51 L368.50,235.11 L368.95,234.02 L369.40,233.49 L369.85,234.01 L370.30,234.72 L370.75,234.20 L371.20,233.88 L371.65,234.20 L372.10,234.88 L372.55,234.56 L373.00,233.15 L373.45,232.27 L373.90,232.64 L374.35,233.42 L374.80,233.03 L375.25,233.26 L375.70,237.97 L376.15,245.97 L376.60,252.68 L377.05,260.26 L377.50,267.97 L377.95,273.36 L378.40,276.39 L378.85,279.92 L379.30,283.79 L379.75,288.83 L380.20,293.50 L380.65,297.42 L381.10,299.99 L381.55,301.16 L382.00,302.12 L382.45,302.73 L382.90,303.33 L383.35,303.45 L383.80,303.98 L384.25,304.50 L384.70,304.89 L385.15,304.88 L385.60,304.75 L386.05,304.90 L386.50,305.18 L386.95,305.82 L387.40,306.16 L387.85,306.14 L388.30,306.06 L388.75,306.46 L389.20,306.59 L389.65,306.83 L390.10,306.64 L390.55,306.79 L391.00,306.94 L391.45,307.37 L391.90,307.48 L392.35,307.60 L392.80,307.91 L393.25,308.04 L393.70,308.03 L394.15,308.27 L394.60,308.48 L395.05,308.51 L395.50,308.46 L395.95,308.58 L396.40,308.66 L396.85,308.69 L397.30,308.77 L397.75,308.79 L398.20,308.85 L398.65,308.90 L399.10,309.04 L399.55,309.16" fill="none" stroke="#a9a9a9" stroke-width="1.8" stroke-linejoin="round" clip-path="url(#c24)"/><path d="M359.50,265.41 L359.95,265.82 L360.40,266.16 L360.85,265.66 L361.30,264.55 L361.75,262.92 L362.20,261.70 L362.65,260.85 L363.10,260.74 L363.55,259.27 L364.00,256.95 L364.45,255.14 L364.90,254.28 L365.35,252.21 L365.80,249.73 L366.25,248.15 L366.70,246.55 L367.15,244.14 L367.60,241.74 L368.05,238.80 L368.50,235.23 L368.95,232.06 L369.40,230.81 L369.85,230.88 L370.30,232.47 L370.75,233.89 L371.20,234.29 L371.65,233.25 L372.10,232.80 L372.55,233.39 L373.00,234.00 L373.45,233.67 L373.90,234.30 L374.35,235.44 L374.80,235.38 L375.25,233.82 L375.70,237.62 L376.15,245.19 L376.60,252.83 L377.05,259.35 L377.50,267.26 L377.95,272.15 L378.40,276.42 L378.85,279.21 L379.30,283.25 L379.75,287.98 L380.20,292.78 L380.65,296.23 L381.10,299.01 L381.55,300.71 L382.00,302.01 L382.45,302.84 L382.90,303.60 L383.35,304.14 L383.80,304.65 L384.25,305.12 L384.70,305.31 L385.15,305.28 L385.60,305.03 L386.05,305.18 L386.50,305.37 L386.95,305.81 L387.40,305.71 L387.85,305.73 L388.30,305.66 L388.75,305.95 L389.20,306.22 L389.65,306.54 L390.10,306.80 L390.55,307.06 L391.00,307.46 L391.45,307.51 L391.90,307.47 L392.35,307.48 L392.80,307.66 L393.25,307.80 L393.70,307.89 L394.15,307.93 L394.60,307.92 L395.05,308.16 L395.50,308.40 L395.95,308.52 L396.40,308.59 L396.85,308.63 L397.30,308.67 L397.75,308.81 L398.20,309.04 L398.65,309.17 L399.10,309.27 L399.55,309.35" fill="none" stroke="#dc1630" stroke-width="1.8" stroke-linejoin="round" clip-path="url(#c24)"/><path d="M359.50,271.72 L359.95,269.04 L360.40,266.57 L360.85,264.67 L361.30,264.08 L361.75,263.66 L362.20,262.79 L362.65,261.29 L363.10,259.40 L363.55,257.86 L364.00,256.35 L364.45,254.24 L364.90,251.87 L365.35,249.87 L365.80,248.08 L366.25,245.72 L366.70,243.44 L367.15,241.63 L367.60,239.53 L368.05,236.46 L368.50,233.87 L368.95,233.15 L369.40,231.92 L369.85,231.05 L370.30,232.09 L370.75,233.38 L371.20,232.81 L371.65,232.17 L372.10,232.92 L372.55,233.53 L373.00,232.71 L373.45,231.90 L373.90,231.73 L374.35,231.66 L374.80,231.56 L375.25,231.53 L375.70,237.04 L376.15,244.34 L376.60,251.45 L377.05,259.54 L377.50,268.27 L377.95,273.11 L378.40,276.86 L378.85,280.77 L379.30,284.55 L379.75,288.37 L380.20,291.61 L380.65,295.03 L381.10,297.90 L381.55,300.67 L382.00,302.13 L382.45,303.37 L382.90,304.21 L383.35,304.77 L383.80,305.20 L384.25,305.07 L384.70,305.15 L385.15,304.82 L385.60,305.17 L386.05,305.55 L386.50,305.89 L386.95,305.97 L387.40,306.11 L387.85,306.27 L388.30,306.35 L388.75,306.46 L389.20,306.71 L389.65,306.89 L390.10,306.95 L390.55,307.04 L391.00,307.09 L391.45,307.27 L391.90,307.38 L392.35,307.68 L392.80,307.91 L393.25,308.12 L393.70,308.09 L394.15,308.23 L394.60,308.26 L395.05,308.27 L395.50,308.19 L395.95,308.38 L396.40,308.52 L396.85,308.67 L397.30,308.66 L397.75,308.67 L398.20,308.74 L398.65,308.97 L399.10,309.21 L399.55,309.30" fill="none" stroke="#424242" stroke-width="1.8" stroke-linejoin="round" clip-path="url(#c24)"/><path d="M359.50,302.04 L359.95,301.27 L360.40,300.54 L360.85,299.11 L361.30,297.74 L361.75,296.88 L362.20,296.10 L362.65,295.97 L363.10,295.77 L363.55,295.52 L364.00,294.53 L364.45,293.78 L364.90,292.66 L365.35,291.30 L365.80,290.21 L366.25,289.09 L366.70,287.65 L367.15,286.14 L367.60,284.57 L368.05,282.53 L368.50,280.64 L368.95,279.07 L369.40,276.16 L369.85,271.40 L370.30,266.71 L370.75,263.04 L371.20,259.79 L371.65,256.95 L372.10,253.54 L372.55,249.61 L373.00,244.81 L373.45,242.60 L373.90,244.77 L374.35,243.34 L374.80,240.63 L375.25,237.82 L375.70,236.12 L376.15,234.32 L376.60,233.07 L377.05,231.97 L377.50,230.49 L377.95,230.04 L378.40,231.46 L378.85,235.12 L379.30,238.52 L379.75,241.51 L380.20,244.04 L380.65,247.98 L381.10,251.47 L381.55,253.37 L382.00,256.34 L382.45,260.76 L382.90,265.25 L383.35,269.50 L383.80,273.54 L384.25,276.74 L384.70,279.24 L385.15,281.54 L385.60,284.33 L386.05,286.56 L386.50,289.04 L386.95,290.71 L387.40,292.52 L387.85,293.84 L388.30,295.35 L388.75,296.72 L389.20,298.11 L389.65,299.15 L390.10,300.03 L390.55,300.84 L391.00,301.43 L391.45,302.03 L391.90,302.63 L392.35,303.20 L392.80,303.52 L393.25,303.89 L393.70,304.17 L394.15,304.22 L394.60,304.45 L395.05,304.87 L395.50,305.28 L395.95,305.57 L396.40,305.92 L396.85,306.38 L397.30,306.64 L397.75,306.87 L398.20,307.07 L398.65,307.20 L399.10,307.18 L399.55,307.22 L400.00,307.52 L400.45,307.82 L400.90,307.92 L401.35,307.85 L401.80,307.82 L402.25,307.89 L402.70,308.02 L403.15,308.15 L403.60,308.28 L404.05,308.49 L404.50,308.63 L404.95,308.74 L405.40,308.70 L405.85,308.59 L406.30,308.55 L406.75,308.61 L407.20,308.77 L407.65,308.93 L408.10,309.16 L408.55,309.18 L409.00,309.15 L409.45,309.08 L409.90,309.19" fill="none" stroke="#2424aa" stroke-width="1.8" stroke-linejoin="round" clip-path="url(#c24)"/><line x1="28.0" y1="13.4" x2="441.4" y2="13.4" stroke="#2a2a2a" stroke-width="1.3"/><line x1="110.6" y1="13.4" x2="110.6" y2="96.4" stroke="#2a2a2a" stroke-width="1.4"/><line x1="193.3" y1="13.4" x2="193.3" y2="96.4" stroke="#2a2a2a" stroke-width="1.4"/><line x1="276.3" y1="13.4" x2="276.3" y2="96.4" stroke="#2a2a2a" stroke-width="1.4"/><line x1="358.8" y1="13.4" x2="358.8" y2="96.4" stroke="#2a2a2a" stroke-width="1.4"/><line x1="440.8" y1="13.4" x2="440.8" y2="96.4" stroke="#2a2a2a" stroke-width="1.4"/><line x1="27.2" y1="96.4" x2="441.5" y2="96.4" stroke="#1a1a1a" stroke-width="1.8"/><line x1="28.0" y1="12.8" x2="28.0" y2="98.2" stroke="#1a1a1a" stroke-width="2"/><line x1="25.0" y1="17.5" x2="28.0" y2="17.5" stroke="#1a1a1a" stroke-width="1"/><text x="23.7" y="20.1" font-size="7.3" text-anchor="end" fill="#111" stroke="#111" stroke-width="0.35">100</text><line x1="25.0" y1="33.3" x2="28.0" y2="33.3" stroke="#1a1a1a" stroke-width="1"/><text x="23.7" y="35.9" font-size="7.3" text-anchor="end" fill="#111" stroke="#111" stroke-width="0.35">80</text><line x1="25.0" y1="49.1" x2="28.0" y2="49.1" stroke="#1a1a1a" stroke-width="1"/><text x="23.7" y="51.7" font-size="7.3" text-anchor="end" fill="#111" stroke="#111" stroke-width="0.35">60</text><line x1="25.0" y1="64.8" x2="28.0" y2="64.8" stroke="#1a1a1a" stroke-width="1"/><text x="23.7" y="67.4" font-size="7.3" text-anchor="end" fill="#111" stroke="#111" stroke-width="0.35">40</text><line x1="25.0" y1="80.6" x2="28.0" y2="80.6" stroke="#1a1a1a" stroke-width="1"/><text x="23.7" y="83.2" font-size="7.3" text-anchor="end" fill="#111" stroke="#111" stroke-width="0.35">20</text><line x1="25.0" y1="96.4" x2="28.0" y2="96.4" stroke="#1a1a1a" stroke-width="1"/><text x="23.7" y="99.0" font-size="7.3" text-anchor="end" fill="#111" stroke="#111" stroke-width="0.35">0</text><path d="M28.0,96.4v2.8 M34.2,96.4v2.0 M37.9,96.4v2.0 M40.4,96.4v2.0 M42.4,96.4v2.0 M44.1,96.4v2.0 M45.5,96.4v2.0 M46.6,96.4v2.0 M47.7,96.4v2.0 M48.6,96.4v2.8 M54.9,96.4v2.0 M58.5,96.4v2.0 M61.1,96.4v2.0 M63.1,96.4v2.0 M64.7,96.4v2.0 M66.1,96.4v2.0 M67.3,96.4v2.0 M68.4,96.4v2.0 M69.3,96.4v2.8 M75.5,96.4v2.0 M79.2,96.4v2.0 M81.7,96.4v2.0 M83.7,96.4v2.0 M85.4,96.4v2.0 M86.8,96.4v2.0 M87.9,96.4v2.0 M89.0,96.4v2.0 M89.9,96.4v2.8 M96.2,96.4v2.0 M99.8,96.4v2.0 M102.4,96.4v2.0 M104.4,96.4v2.0 M106.0,96.4v2.0 M107.4,96.4v2.0 M108.6,96.4v2.0 M109.7,96.4v2.0 M110.6,96.4v2.8 M116.8,96.4v2.0 M120.5,96.4v2.0 M123.0,96.4v2.0 M125.1,96.4v2.0 M126.7,96.4v2.0 M128.1,96.4v2.0 M129.3,96.4v2.0 M130.3,96.4v2.0 M131.3,96.4v2.8 M137.5,96.4v2.0 M141.1,96.4v2.0 M143.7,96.4v2.0 M145.7,96.4v2.0 M147.4,96.4v2.0 M148.7,96.4v2.0 M149.9,96.4v2.0 M151.0,96.4v2.0 M151.9,96.4v2.8 M158.2,96.4v2.0 M161.8,96.4v2.0 M164.4,96.4v2.0 M166.4,96.4v2.0 M168.0,96.4v2.0 M169.4,96.4v2.0 M170.6,96.4v2.0 M171.7,96.4v2.0 M172.6,96.4v2.8 M178.8,96.4v2.0 M182.5,96.4v2.0 M185.1,96.4v2.0 M187.1,96.4v2.0 M188.7,96.4v2.0 M190.1,96.4v2.0 M191.3,96.4v2.0 M192.4,96.4v2.0 M193.3,96.4v2.8 M199.5,96.4v2.0 M203.2,96.4v2.0 M205.8,96.4v2.0 M207.8,96.4v2.0 M209.4,96.4v2.0 M210.8,96.4v2.0 M212.0,96.4v2.0 M213.1,96.4v2.0 M214.1,96.4v2.8 M220.3,96.4v2.0 M224.0,96.4v2.0 M226.5,96.4v2.0 M228.6,96.4v2.0 M230.2,96.4v2.0 M231.6,96.4v2.0 M232.8,96.4v2.0 M233.9,96.4v2.0 M234.8,96.4v2.8 M241.0,96.4v2.0 M244.7,96.4v2.0 M247.3,96.4v2.0 M249.3,96.4v2.0 M250.9,96.4v2.0 M252.3,96.4v2.0 M253.5,96.4v2.0 M254.6,96.4v2.0 M255.6,96.4v2.8 M261.8,96.4v2.0 M265.5,96.4v2.0 M268.0,96.4v2.0 M270.1,96.4v2.0 M271.7,96.4v2.0 M273.1,96.4v2.0 M274.3,96.4v2.0 M275.4,96.4v2.0 M276.3,96.4v2.8 M282.5,96.4v2.0 M286.1,96.4v2.0 M288.7,96.4v2.0 M290.7,96.4v2.0 M292.3,96.4v2.0 M293.7,96.4v2.0 M294.9,96.4v2.0 M296.0,96.4v2.0 M296.9,96.4v2.8 M303.1,96.4v2.0 M306.8,96.4v2.0 M309.3,96.4v2.0 M311.3,96.4v2.0 M313.0,96.4v2.0 M314.4,96.4v2.0 M315.6,96.4v2.0 M316.6,96.4v2.0 M317.6,96.4v2.8 M323.8,96.4v2.0 M327.4,96.4v2.0 M330.0,96.4v2.0 M332.0,96.4v2.0 M333.6,96.4v2.0 M335.0,96.4v2.0 M336.2,96.4v2.0 M337.2,96.4v2.0 M338.2,96.4v2.8 M344.4,96.4v2.0 M348.0,96.4v2.0 M350.6,96.4v2.0 M352.6,96.4v2.0 M354.2,96.4v2.0 M355.6,96.4v2.0 M356.8,96.4v2.0 M357.9,96.4v2.0 M358.8,96.4v2.8 M365.0,96.4v2.0 M368.6,96.4v2.0 M371.1,96.4v2.0 M373.1,96.4v2.0 M374.8,96.4v2.0 M376.1,96.4v2.0 M377.3,96.4v2.0 M378.4,96.4v2.0 M379.3,96.4v2.8 M385.5,96.4v2.0 M389.1,96.4v2.0 M391.6,96.4v2.0 M393.6,96.4v2.0 M395.3,96.4v2.0 M396.6,96.4v2.0 M397.8,96.4v2.0 M398.9,96.4v2.0 M399.8,96.4v2.8 M406.0,96.4v2.0 M409.6,96.4v2.0 M412.1,96.4v2.0 M414.1,96.4v2.0 M415.8,96.4v2.0 M417.1,96.4v2.0 M418.3,96.4v2.0 M419.4,96.4v2.0 M420.3,96.4v2.8 M426.5,96.4v2.0 M430.1,96.4v2.0 M432.6,96.4v2.0 M434.6,96.4v2.0 M436.3,96.4v2.0 M437.6,96.4v2.0 M438.8,96.4v2.0 M439.9,96.4v2.0" stroke="#111" stroke-width="0.9" fill="none"/><line x1="28.0" y1="120.5" x2="441.4" y2="120.5" stroke="#2a2a2a" stroke-width="1.3"/><line x1="110.6" y1="120.5" x2="110.6" y2="202.7" stroke="#2a2a2a" stroke-width="1.4"/><line x1="193.3" y1="120.5" x2="193.3" y2="202.7" stroke="#2a2a2a" stroke-width="1.4"/><line x1="276.3" y1="120.5" x2="276.3" y2="202.7" stroke="#2a2a2a" stroke-width="1.4"/><line x1="358.8" y1="120.5" x2="358.8" y2="202.7" stroke="#2a2a2a" stroke-width="1.4"/><line x1="440.8" y1="120.5" x2="440.8" y2="202.7" stroke="#2a2a2a" stroke-width="1.4"/><line x1="27.2" y1="202.7" x2="441.5" y2="202.7" stroke="#1a1a1a" stroke-width="1.8"/><line x1="28.0" y1="119.9" x2="28.0" y2="204.5" stroke="#1a1a1a" stroke-width="2"/><line x1="25.0" y1="124.0" x2="28.0" y2="124.0" stroke="#1a1a1a" stroke-width="1"/><text x="23.7" y="126.6" font-size="7.3" text-anchor="end" fill="#111" stroke="#111" stroke-width="0.35">100</text><line x1="25.0" y1="139.7" x2="28.0" y2="139.7" stroke="#1a1a1a" stroke-width="1"/><text x="23.7" y="142.3" font-size="7.3" text-anchor="end" fill="#111" stroke="#111" stroke-width="0.35">80</text><line x1="25.0" y1="155.5" x2="28.0" y2="155.5" stroke="#1a1a1a" stroke-width="1"/><text x="23.7" y="158.1" font-size="7.3" text-anchor="end" fill="#111" stroke="#111" stroke-width="0.35">60</text><line x1="25.0" y1="171.2" x2="28.0" y2="171.2" stroke="#1a1a1a" stroke-width="1"/><text x="23.7" y="173.8" font-size="7.3" text-anchor="end" fill="#111" stroke="#111" stroke-width="0.35">40</text><line x1="25.0" y1="187.0" x2="28.0" y2="187.0" stroke="#1a1a1a" stroke-width="1"/><text x="23.7" y="189.6" font-size="7.3" text-anchor="end" fill="#111" stroke="#111" stroke-width="0.35">20</text><line x1="25.0" y1="202.7" x2="28.0" y2="202.7" stroke="#1a1a1a" stroke-width="1"/><text x="23.7" y="205.3" font-size="7.3" text-anchor="end" fill="#111" stroke="#111" stroke-width="0.35">0</text><path d="M28.0,202.7v2.8 M34.2,202.7v2.0 M37.9,202.7v2.0 M40.4,202.7v2.0 M42.4,202.7v2.0 M44.1,202.7v2.0 M45.5,202.7v2.0 M46.6,202.7v2.0 M47.7,202.7v2.0 M48.6,202.7v2.8 M54.9,202.7v2.0 M58.5,202.7v2.0 M61.1,202.7v2.0 M63.1,202.7v2.0 M64.7,202.7v2.0 M66.1,202.7v2.0 M67.3,202.7v2.0 M68.4,202.7v2.0 M69.3,202.7v2.8 M75.5,202.7v2.0 M79.2,202.7v2.0 M81.7,202.7v2.0 M83.7,202.7v2.0 M85.4,202.7v2.0 M86.8,202.7v2.0 M87.9,202.7v2.0 M89.0,202.7v2.0 M89.9,202.7v2.8 M96.2,202.7v2.0 M99.8,202.7v2.0 M102.4,202.7v2.0 M104.4,202.7v2.0 M106.0,202.7v2.0 M107.4,202.7v2.0 M108.6,202.7v2.0 M109.7,202.7v2.0 M110.6,202.7v2.8 M116.8,202.7v2.0 M120.5,202.7v2.0 M123.0,202.7v2.0 M125.1,202.7v2.0 M126.7,202.7v2.0 M128.1,202.7v2.0 M129.3,202.7v2.0 M130.3,202.7v2.0 M131.3,202.7v2.8 M137.5,202.7v2.0 M141.1,202.7v2.0 M143.7,202.7v2.0 M145.7,202.7v2.0 M147.4,202.7v2.0 M148.7,202.7v2.0 M149.9,202.7v2.0 M151.0,202.7v2.0 M151.9,202.7v2.8 M158.2,202.7v2.0 M161.8,202.7v2.0 M164.4,202.7v2.0 M166.4,202.7v2.0 M168.0,202.7v2.0 M169.4,202.7v2.0 M170.6,202.7v2.0 M171.7,202.7v2.0 M172.6,202.7v2.8 M178.8,202.7v2.0 M182.5,202.7v2.0 M185.1,202.7v2.0 M187.1,202.7v2.0 M188.7,202.7v2.0 M190.1,202.7v2.0 M191.3,202.7v2.0 M192.4,202.7v2.0 M193.3,202.7v2.8 M199.5,202.7v2.0 M203.2,202.7v2.0 M205.8,202.7v2.0 M207.8,202.7v2.0 M209.4,202.7v2.0 M210.8,202.7v2.0 M212.0,202.7v2.0 M213.1,202.7v2.0 M214.1,202.7v2.8 M220.3,202.7v2.0 M224.0,202.7v2.0 M226.5,202.7v2.0 M228.6,202.7v2.0 M230.2,202.7v2.0 M231.6,202.7v2.0 M232.8,202.7v2.0 M233.9,202.7v2.0 M234.8,202.7v2.8 M241.0,202.7v2.0 M244.7,202.7v2.0 M247.3,202.7v2.0 M249.3,202.7v2.0 M250.9,202.7v2.0 M252.3,202.7v2.0 M253.5,202.7v2.0 M254.6,202.7v2.0 M255.6,202.7v2.8 M261.8,202.7v2.0 M265.5,202.7v2.0 M268.0,202.7v2.0 M270.1,202.7v2.0 M271.7,202.7v2.0 M273.1,202.7v2.0 M274.3,202.7v2.0 M275.4,202.7v2.0 M276.3,202.7v2.8 M282.5,202.7v2.0 M286.1,202.7v2.0 M288.7,202.7v2.0 M290.7,202.7v2.0 M292.3,202.7v2.0 M293.7,202.7v2.0 M294.9,202.7v2.0 M296.0,202.7v2.0 M296.9,202.7v2.8 M303.1,202.7v2.0 M306.8,202.7v2.0 M309.3,202.7v2.0 M311.3,202.7v2.0 M313.0,202.7v2.0 M314.4,202.7v2.0 M315.6,202.7v2.0 M316.6,202.7v2.0 M317.6,202.7v2.8 M323.8,202.7v2.0 M327.4,202.7v2.0 M330.0,202.7v2.0 M332.0,202.7v2.0 M333.6,202.7v2.0 M335.0,202.7v2.0 M336.2,202.7v2.0 M337.2,202.7v2.0 M338.2,202.7v2.8 M344.4,202.7v2.0 M348.0,202.7v2.0 M350.6,202.7v2.0 M352.6,202.7v2.0 M354.2,202.7v2.0 M355.6,202.7v2.0 M356.8,202.7v2.0 M357.9,202.7v2.0 M358.8,202.7v2.8 M365.0,202.7v2.0 M368.6,202.7v2.0 M371.1,202.7v2.0 M373.1,202.7v2.0 M374.8,202.7v2.0 M376.1,202.7v2.0 M377.3,202.7v2.0 M378.4,202.7v2.0 M379.3,202.7v2.8 M385.5,202.7v2.0 M389.1,202.7v2.0 M391.6,202.7v2.0 M393.6,202.7v2.0 M395.3,202.7v2.0 M396.6,202.7v2.0 M397.8,202.7v2.0 M398.9,202.7v2.0 M399.8,202.7v2.8 M406.0,202.7v2.0 M409.6,202.7v2.0 M412.1,202.7v2.0 M414.1,202.7v2.0 M415.8,202.7v2.0 M417.1,202.7v2.0 M418.3,202.7v2.0 M419.4,202.7v2.0 M420.3,202.7v2.8 M426.5,202.7v2.0 M430.1,202.7v2.0 M432.6,202.7v2.0 M434.6,202.7v2.0 M436.3,202.7v2.0 M437.6,202.7v2.0 M438.8,202.7v2.0 M439.9,202.7v2.0" stroke="#111" stroke-width="0.9" fill="none"/><line x1="28.0" y1="227.4" x2="441.4" y2="227.4" stroke="#2a2a2a" stroke-width="1.3"/><line x1="110.6" y1="227.4" x2="110.6" y2="309.9" stroke="#2a2a2a" stroke-width="1.4"/><line x1="193.3" y1="227.4" x2="193.3" y2="309.9" stroke="#2a2a2a" stroke-width="1.4"/><line x1="276.3" y1="227.4" x2="276.3" y2="309.9" stroke="#2a2a2a" stroke-width="1.4"/><line x1="358.8" y1="227.4" x2="358.8" y2="309.9" stroke="#2a2a2a" stroke-width="1.4"/><line x1="440.8" y1="227.4" x2="440.8" y2="309.9" stroke="#2a2a2a" stroke-width="1.4"/><line x1="27.2" y1="309.9" x2="441.5" y2="309.9" stroke="#1a1a1a" stroke-width="1.8"/><line x1="28.0" y1="226.8" x2="28.0" y2="311.7" stroke="#1a1a1a" stroke-width="2"/><line x1="25.0" y1="231.4" x2="28.0" y2="231.4" stroke="#1a1a1a" stroke-width="1"/><text x="23.7" y="234.0" font-size="7.3" text-anchor="end" fill="#111" stroke="#111" stroke-width="0.35">100</text><line x1="25.0" y1="247.1" x2="28.0" y2="247.1" stroke="#1a1a1a" stroke-width="1"/><text x="23.7" y="249.7" font-size="7.3" text-anchor="end" fill="#111" stroke="#111" stroke-width="0.35">80</text><line x1="25.0" y1="262.8" x2="28.0" y2="262.8" stroke="#1a1a1a" stroke-width="1"/><text x="23.7" y="265.4" font-size="7.3" text-anchor="end" fill="#111" stroke="#111" stroke-width="0.35">60</text><line x1="25.0" y1="278.5" x2="28.0" y2="278.5" stroke="#1a1a1a" stroke-width="1"/><text x="23.7" y="281.1" font-size="7.3" text-anchor="end" fill="#111" stroke="#111" stroke-width="0.35">40</text><line x1="25.0" y1="294.2" x2="28.0" y2="294.2" stroke="#1a1a1a" stroke-width="1"/><text x="23.7" y="296.8" font-size="7.3" text-anchor="end" fill="#111" stroke="#111" stroke-width="0.35">20</text><line x1="25.0" y1="309.9" x2="28.0" y2="309.9" stroke="#1a1a1a" stroke-width="1"/><text x="23.7" y="312.5" font-size="7.3" text-anchor="end" fill="#111" stroke="#111" stroke-width="0.35">0</text><path d="M28.0,309.9v2.8 M34.2,309.9v2.0 M37.9,309.9v2.0 M40.4,309.9v2.0 M42.4,309.9v2.0 M44.1,309.9v2.0 M45.5,309.9v2.0 M46.6,309.9v2.0 M47.7,309.9v2.0 M48.6,309.9v2.8 M54.9,309.9v2.0 M58.5,309.9v2.0 M61.1,309.9v2.0 M63.1,309.9v2.0 M64.7,309.9v2.0 M66.1,309.9v2.0 M67.3,309.9v2.0 M68.4,309.9v2.0 M69.3,309.9v2.8 M75.5,309.9v2.0 M79.2,309.9v2.0 M81.7,309.9v2.0 M83.7,309.9v2.0 M85.4,309.9v2.0 M86.8,309.9v2.0 M87.9,309.9v2.0 M89.0,309.9v2.0 M89.9,309.9v2.8 M96.2,309.9v2.0 M99.8,309.9v2.0 M102.4,309.9v2.0 M104.4,309.9v2.0 M106.0,309.9v2.0 M107.4,309.9v2.0 M108.6,309.9v2.0 M109.7,309.9v2.0 M110.6,309.9v2.8 M116.8,309.9v2.0 M120.5,309.9v2.0 M123.0,309.9v2.0 M125.1,309.9v2.0 M126.7,309.9v2.0 M128.1,309.9v2.0 M129.3,309.9v2.0 M130.3,309.9v2.0 M131.3,309.9v2.8 M137.5,309.9v2.0 M141.1,309.9v2.0 M143.7,309.9v2.0 M145.7,309.9v2.0 M147.4,309.9v2.0 M148.7,309.9v2.0 M149.9,309.9v2.0 M151.0,309.9v2.0 M151.9,309.9v2.8 M158.2,309.9v2.0 M161.8,309.9v2.0 M164.4,309.9v2.0 M166.4,309.9v2.0 M168.0,309.9v2.0 M169.4,309.9v2.0 M170.6,309.9v2.0 M171.7,309.9v2.0 M172.6,309.9v2.8 M178.8,309.9v2.0 M182.5,309.9v2.0 M185.1,309.9v2.0 M187.1,309.9v2.0 M188.7,309.9v2.0 M190.1,309.9v2.0 M191.3,309.9v2.0 M192.4,309.9v2.0 M193.3,309.9v2.8 M199.5,309.9v2.0 M203.2,309.9v2.0 M205.8,309.9v2.0 M207.8,309.9v2.0 M209.4,309.9v2.0 M210.8,309.9v2.0 M212.0,309.9v2.0 M213.1,309.9v2.0 M214.1,309.9v2.8 M220.3,309.9v2.0 M224.0,309.9v2.0 M226.5,309.9v2.0 M228.6,309.9v2.0 M230.2,309.9v2.0 M231.6,309.9v2.0 M232.8,309.9v2.0 M233.9,309.9v2.0 M234.8,309.9v2.8 M241.0,309.9v2.0 M244.7,309.9v2.0 M247.3,309.9v2.0 M249.3,309.9v2.0 M250.9,309.9v2.0 M252.3,309.9v2.0 M253.5,309.9v2.0 M254.6,309.9v2.0 M255.6,309.9v2.8 M261.8,309.9v2.0 M265.5,309.9v2.0 M268.0,309.9v2.0 M270.1,309.9v2.0 M271.7,309.9v2.0 M273.1,309.9v2.0 M274.3,309.9v2.0 M275.4,309.9v2.0 M276.3,309.9v2.8 M282.5,309.9v2.0 M286.1,309.9v2.0 M288.7,309.9v2.0 M290.7,309.9v2.0 M292.3,309.9v2.0 M293.7,309.9v2.0 M294.9,309.9v2.0 M296.0,309.9v2.0 M296.9,309.9v2.8 M303.1,309.9v2.0 M306.8,309.9v2.0 M309.3,309.9v2.0 M311.3,309.9v2.0 M313.0,309.9v2.0 M314.4,309.9v2.0 M315.6,309.9v2.0 M316.6,309.9v2.0 M317.6,309.9v2.8 M323.8,309.9v2.0 M327.4,309.9v2.0 M330.0,309.9v2.0 M332.0,309.9v2.0 M333.6,309.9v2.0 M335.0,309.9v2.0 M336.2,309.9v2.0 M337.2,309.9v2.0 M338.2,309.9v2.8 M344.4,309.9v2.0 M348.0,309.9v2.0 M350.6,309.9v2.0 M352.6,309.9v2.0 M354.2,309.9v2.0 M355.6,309.9v2.0 M356.8,309.9v2.0 M357.9,309.9v2.0 M358.8,309.9v2.8 M365.0,309.9v2.0 M368.6,309.9v2.0 M371.1,309.9v2.0 M373.1,309.9v2.0 M374.8,309.9v2.0 M376.1,309.9v2.0 M377.3,309.9v2.0 M378.4,309.9v2.0 M379.3,309.9v2.8 M385.5,309.9v2.0 M389.1,309.9v2.0 M391.6,309.9v2.0 M393.6,309.9v2.0 M395.3,309.9v2.0 M396.6,309.9v2.0 M397.8,309.9v2.0 M398.9,309.9v2.0 M399.8,309.9v2.8 M406.0,309.9v2.0 M409.6,309.9v2.0 M412.1,309.9v2.0 M414.1,309.9v2.0 M415.8,309.9v2.0 M417.1,309.9v2.0 M418.3,309.9v2.0 M419.4,309.9v2.0 M420.3,309.9v2.8 M426.5,309.9v2.0 M430.1,309.9v2.0 M432.6,309.9v2.0 M434.6,309.9v2.0 M436.3,309.9v2.0 M437.6,309.9v2.0 M438.8,309.9v2.0 M439.9,309.9v2.0" stroke="#111" stroke-width="0.9" fill="none"/><text transform="translate(68.0,8) scale(1,1.07)" x="0" y="0" font-size="10.0" text-anchor="middle" fill="#111" stroke="#111" stroke-width="0.4">Thymocytes</text><text transform="translate(151.8,8) scale(1,1.07)" x="0" y="0" font-size="10.0" text-anchor="middle" fill="#111" stroke="#111" stroke-width="0.4">Spleen T</text><text transform="translate(233.7,8) scale(1,1.07)" x="0" y="0" font-size="10.0" text-anchor="middle" fill="#111" stroke="#111" stroke-width="0.4">Spleen T+α-CD3</text><text transform="translate(316.3,8) scale(1,1.07)" x="0" y="0" font-size="10.0" text-anchor="middle" fill="#111" stroke="#111" stroke-width="0.4">Spleen B</text><text transform="translate(401.1,8) scale(1,1.07)" x="0" y="0" font-size="10.0" text-anchor="middle" fill="#111" stroke="#111" stroke-width="0.4">Spleen B+CD40L</text><text x="0.4" y="9.0" font-size="12.5" font-weight="bold" fill="#111" stroke="#111" stroke-width="0.3">A</text><text transform="translate(8.3,79.2) rotate(-90)" font-size="10" font-weight="bold" fill="#111">Count</text><path d="M4.2,87.8 V106.8 H22.5" fill="none" stroke="#111" stroke-width="1.3"/><path d="M4.2,84.3 L1.6,88.8 L6.8,88.8 Z" fill="#111"/><path d="M26.4,106.8 L21.6,104.3 L21.6,109.3 Z" fill="#111"/><text x="31.6" y="111.0" font-size="10" font-weight="bold" fill="#111">Fas</text><text transform="translate(8.3,186.2) rotate(-90)" font-size="10" font-weight="bold" fill="#111">Count</text><path d="M4.2,192.7 V211.9 H22.5" fill="none" stroke="#111" stroke-width="1.3"/><path d="M4.2,189.2 L1.6,193.7 L6.8,193.7 Z" fill="#111"/><path d="M26.4,211.9 L21.6,209.4 L21.6,214.4 Z" fill="#111"/><text x="31.6" y="217.0" font-size="10" font-weight="bold" fill="#111">FasL</text><text transform="translate(8.3,298.6) rotate(-90)" font-size="10" font-weight="bold" fill="#111">Count</text><path d="M4.2,304.9 V324.5 H22.5" fill="none" stroke="#111" stroke-width="1.3"/><path d="M4.2,301.4 L1.6,305.9 L6.8,305.9 Z" fill="#111"/><path d="M26.4,324.5 L21.6,322.0 L21.6,327.0 Z" fill="#111"/><text x="31.6" y="328.0" font-size="10" font-weight="bold" fill="#111">FcμR</text><line x1="450.2" y1="18.3" x2="462.6" y2="18.3" stroke="#1c1aa0" stroke-width="2.2"/><text x="465.8" y="22.1" font-size="9.7" fill="#111" stroke="#111" stroke-width="0.55">WT</text><line x1="450.2" y1="34.3" x2="462.6" y2="34.3" stroke="#474747" stroke-width="2.2"/><text x="465.8" y="38.1" font-size="9.7" fill="#111" stroke="#111" stroke-width="0.55">WT cont</text><line x1="450.2" y1="50.4" x2="462.6" y2="50.4" stroke="#c8142e" stroke-width="2.2"/><text x="465.8" y="54.2" font-size="9.7" fill="#111" stroke="#111" stroke-width="0.55"><tspan font-style="italic">FcμR</tspan><tspan font-size="7" stroke-width="0.25" dy="-3.4" dx="2.0">-/-</tspan><tspan dy="3.4" dx="3.2"></tspan></text><line x1="450.2" y1="66.4" x2="462.6" y2="66.4" stroke="#b4b4b4" stroke-width="2.2"/><text x="465.8" y="70.2" font-size="9.7" fill="#111" stroke="#111" stroke-width="0.55"><tspan font-style="italic">FcμR</tspan><tspan font-size="7" stroke-width="0.25" dy="-3.4" dx="2.0">-/-</tspan><tspan dy="3.4" dx="3.2">cont</tspan></text></svg>
</body></html>
